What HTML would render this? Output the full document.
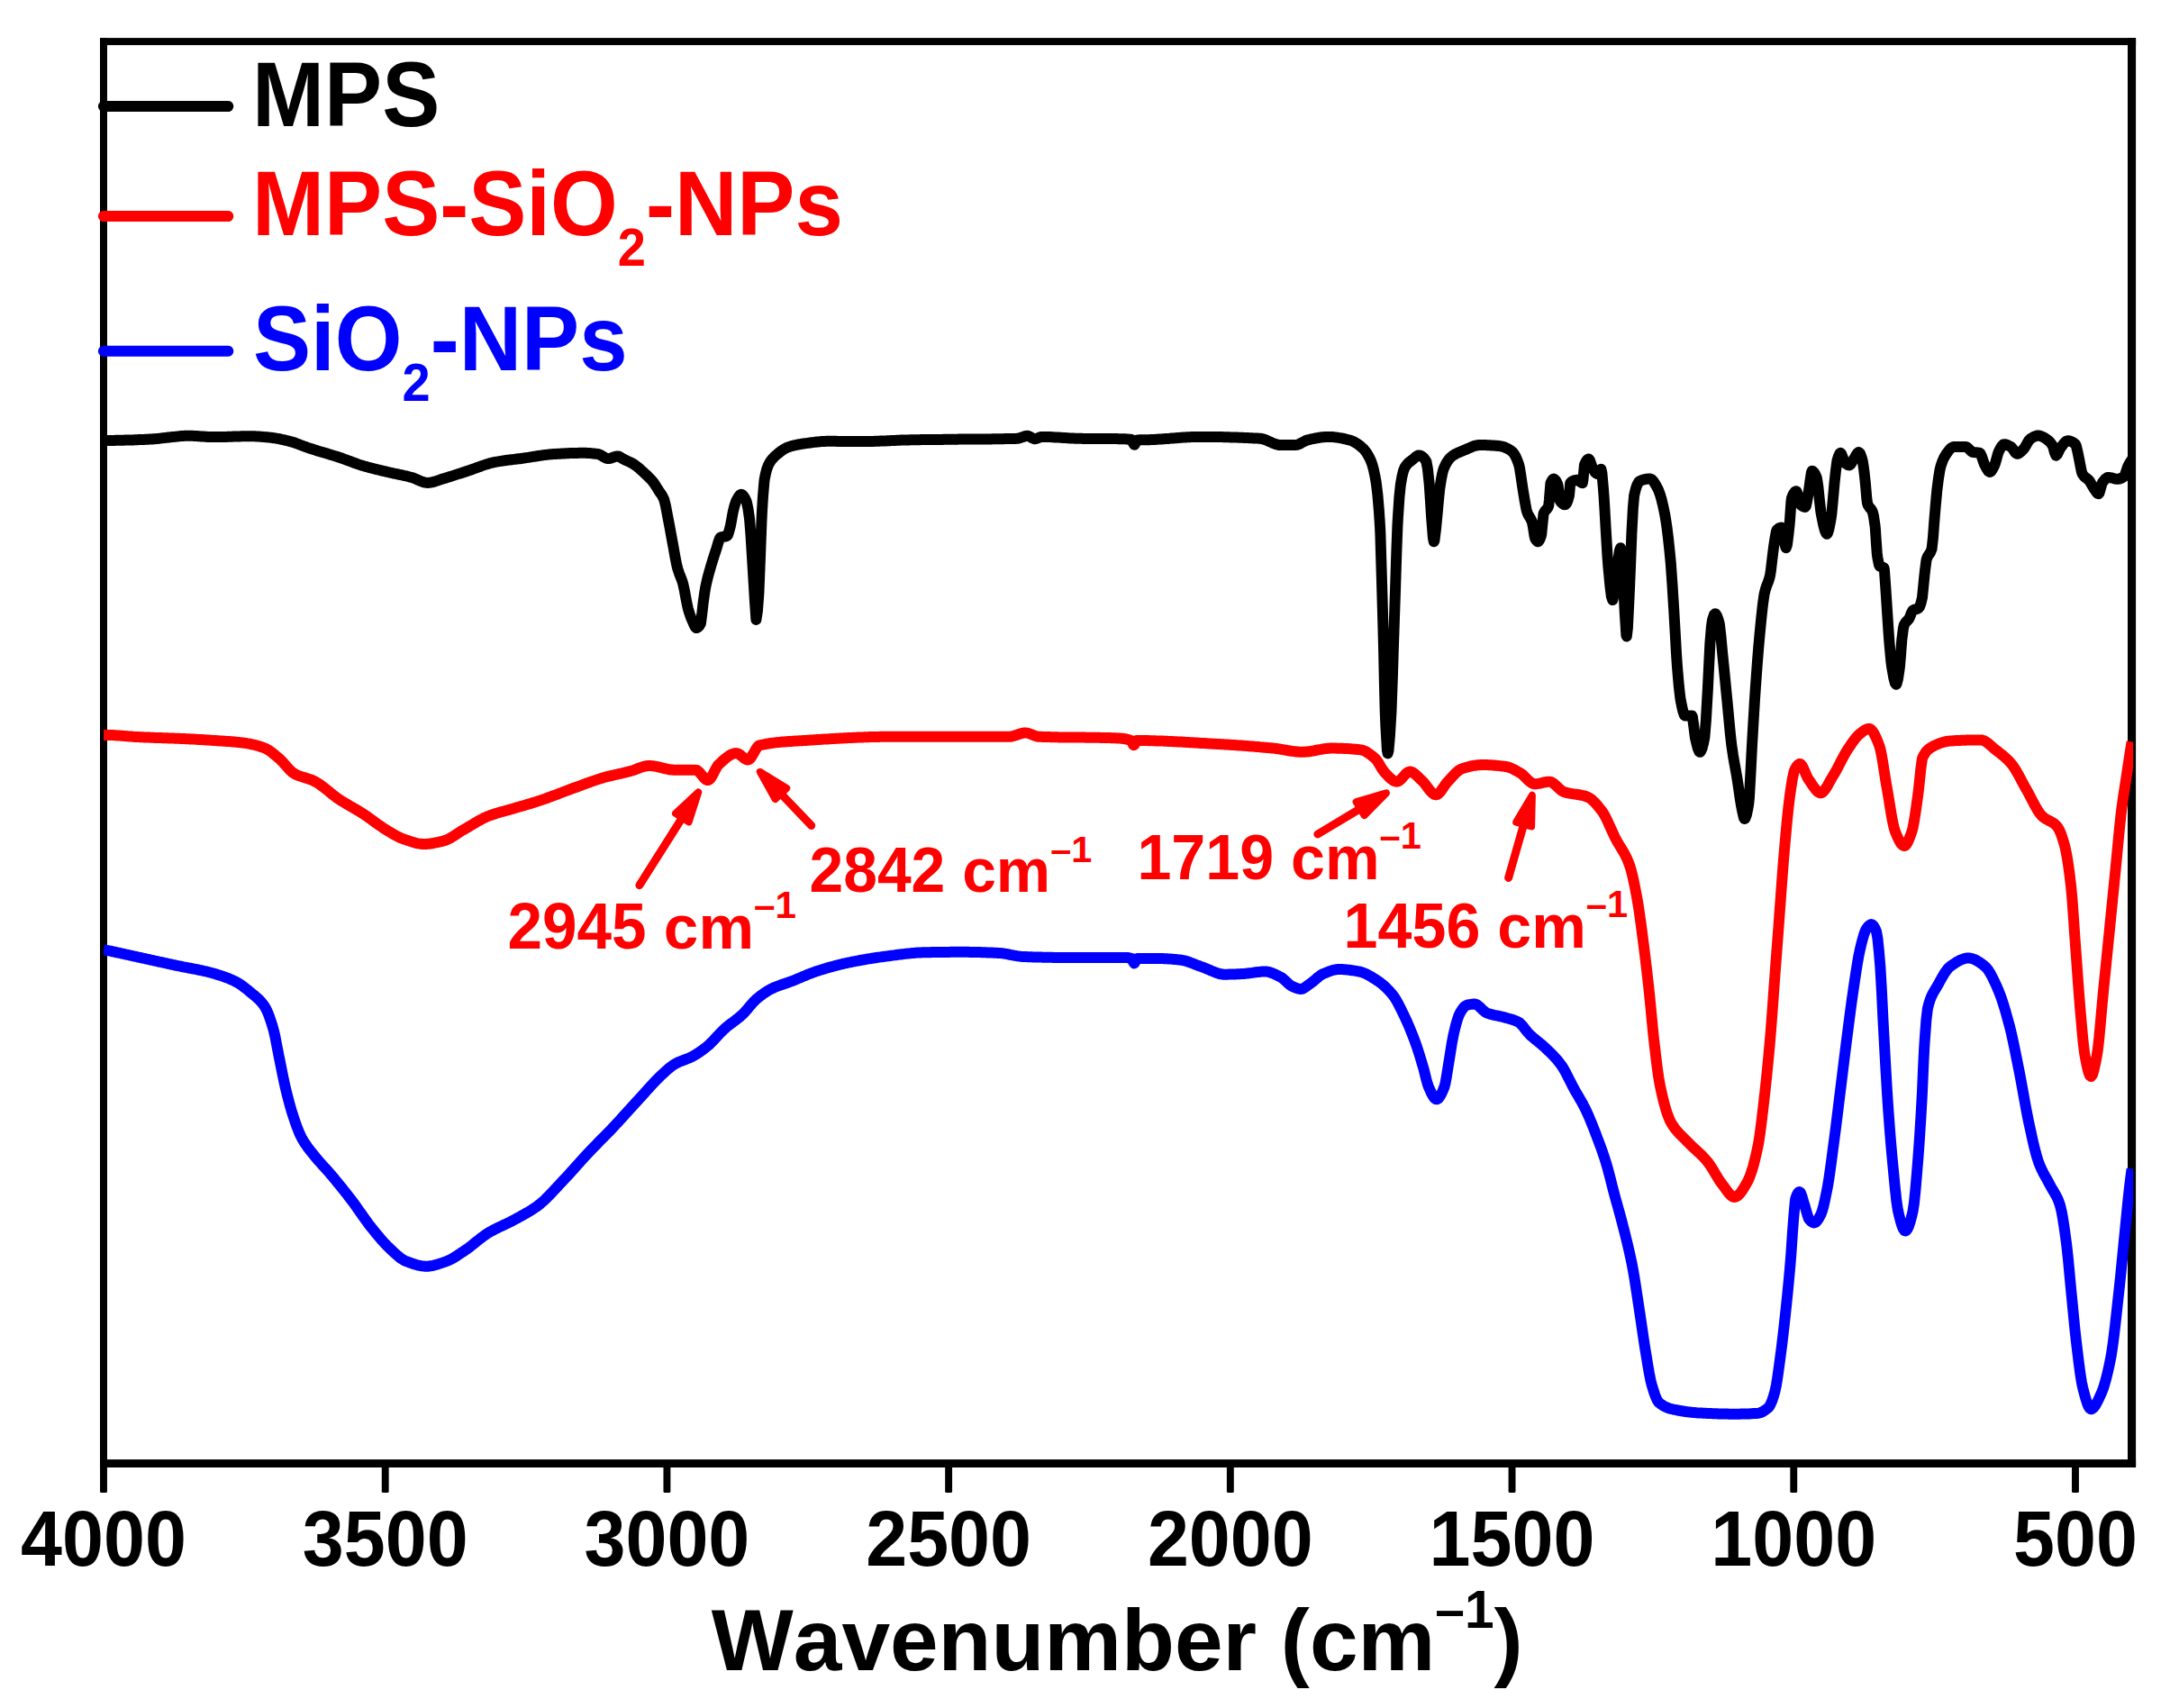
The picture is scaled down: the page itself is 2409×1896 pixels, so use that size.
<!DOCTYPE html>
<html lang="en"><head><meta charset="utf-8"><title>FTIR spectra</title>
<style>html,body{margin:0;padding:0;background:#fff}svg{display:block}text{font-family:"Liberation Sans",Arial,Helvetica,sans-serif;font-weight:bold;font-kerning:none;font-variant-ligatures:none;white-space:pre}</style></head><body>
<svg width="2409" height="1896" viewBox="0 0 2409 1896">
<rect width="2409" height="1896" fill="#fff"/>
<defs><clipPath id="plot"><rect x="114.9" y="46.1" width="2253.2" height="1578.6"/></clipPath></defs>
<g fill="#000">
<rect x="111" y="42.1" width="8" height="1586.9"/>
<rect x="111" y="42.1" width="2260.1" height="8"/>
<rect x="2362" y="42.1" width="9.1" height="1586.9" rx="1"/>
<rect x="111" y="1620.1" width="2260.1" height="8.9"/>
<rect x="111.05" y="1624" width="7.9" height="33" rx="1.6"/>
<rect x="423.76" y="1624" width="7.9" height="33" rx="1.6"/>
<rect x="736.47" y="1624" width="7.9" height="33" rx="1.6"/>
<rect x="1049.17" y="1624" width="7.9" height="33" rx="1.6"/>
<rect x="1361.88" y="1624" width="7.9" height="33" rx="1.6"/>
<rect x="1674.59" y="1624" width="7.9" height="33" rx="1.6"/>
<rect x="1987.30" y="1624" width="7.9" height="33" rx="1.6"/>
<rect x="2300.01" y="1624" width="7.9" height="33" rx="1.6"/>
</g>
<text transform="translate(115.0,1737.9) scale(1,1.05)" font-size="82.6" fill="#000" text-anchor="middle">4000</text>
<text transform="translate(427.7,1737.9) scale(1,1.05)" font-size="82.6" fill="#000" text-anchor="middle">3500</text>
<text transform="translate(740.4,1737.9) scale(1,1.05)" font-size="82.6" fill="#000" text-anchor="middle">3000</text>
<text transform="translate(1053.1,1737.9) scale(1,1.05)" font-size="82.6" fill="#000" text-anchor="middle">2500</text>
<text transform="translate(1365.8,1737.9) scale(1,1.05)" font-size="82.6" fill="#000" text-anchor="middle">2000</text>
<text transform="translate(1678.5,1737.9) scale(1,1.05)" font-size="82.6" fill="#000" text-anchor="middle">1500</text>
<text transform="translate(1991.2,1737.9) scale(1,1.05)" font-size="82.6" fill="#000" text-anchor="middle">1000</text>
<text transform="translate(2304.0,1737.9) scale(1,1.05)" font-size="82.6" fill="#000" text-anchor="middle">500</text>
<text x="789.8" y="1854.2" font-size="96.4">Wavenumber (cm<tspan font-size="58.7" dy="-47.2">–1</tspan><tspan dy="47.2">)</tspan></text>
<g clip-path="url(#plot)" fill="none" stroke-width="12.0" stroke-linejoin="round" stroke-linecap="butt">
<path d="M114.9 488.9 L116.4 488.9 L117.9 488.9 L118.8 488.9 L119.4 488.9 L120.9 488.9 L122.4 488.9 L123.9 488.9 L125.4 488.9 L126.9 488.9 L128.4 488.8 L129.9 488.8 L131.4 488.8 L132.9 488.8 L134.4 488.7 L135.9 488.7 L137.4 488.7 L138.9 488.6 L140.4 488.6 L141.9 488.5 L143.4 488.5 L144.9 488.5 L146.4 488.4 L147.9 488.4 L149.4 488.3 L150.9 488.2 L152.4 488.2 L153.9 488.1 L155.4 488.1 L156.9 488.0 L158.4 488.0 L159.9 487.9 L161.4 487.8 L162.9 487.8 L164.4 487.7 L165.9 487.6 L166.4 487.6 L167.4 487.5 L168.9 487.5 L170.4 487.3 L171.9 487.2 L173.4 487.1 L174.9 486.9 L176.4 486.8 L177.9 486.6 L179.4 486.4 L180.9 486.2 L182.4 486.1 L183.9 485.9 L185.4 485.7 L186.9 485.5 L188.4 485.4 L189.9 485.2 L191.2 485.1 L191.4 485.1 L192.9 484.9 L194.4 484.8 L195.9 484.6 L197.4 484.4 L198.9 484.3 L200.4 484.1 L201.9 484.0 L203.4 483.9 L204.9 483.8 L206.4 483.7 L207.8 483.7 L207.9 483.7 L209.4 483.7 L210.9 483.7 L212.4 483.8 L213.9 483.8 L215.4 483.9 L216.9 484.0 L218.4 484.1 L219.9 484.2 L221.4 484.3 L222.9 484.4 L224.4 484.5 L225.9 484.6 L227.4 484.7 L228.9 484.8 L230.4 484.9 L231.9 484.9 L233.4 485.0 L234.9 485.1 L236.4 485.1 L237.9 485.1 L238.2 485.1 L239.4 485.1 L240.9 485.1 L242.4 485.1 L243.9 485.0 L245.4 485.0 L246.9 485.0 L248.4 484.9 L249.9 484.9 L251.4 484.9 L252.9 484.8 L254.4 484.8 L255.9 484.7 L257.4 484.7 L258.9 484.6 L260.4 484.6 L261.9 484.5 L263.4 484.5 L264.9 484.4 L266.4 484.4 L267.9 484.3 L269.4 484.3 L270.9 484.3 L272.4 484.2 L273.9 484.2 L275.4 484.2 L276.9 484.2 L278.4 484.2 L279.9 484.2 L281.4 484.3 L282.9 484.3 L284.4 484.4 L285.9 484.5 L287.4 484.6 L288.9 484.7 L290.4 484.8 L291.9 484.9 L293.4 485.1 L294.9 485.2 L296.4 485.3 L297.9 485.5 L299.1 485.6 L299.4 485.6 L300.9 485.8 L302.4 486.0 L303.9 486.2 L305.4 486.4 L306.9 486.7 L308.4 486.9 L309.9 487.2 L311.4 487.5 L312.9 487.9 L314.4 488.2 L315.9 488.5 L317.4 488.9 L318.9 489.2 L320.4 489.6 L321.2 489.8 L321.9 490.0 L323.4 490.4 L324.9 490.8 L326.4 491.3 L327.9 491.8 L329.4 492.4 L330.9 492.9 L332.4 493.5 L333.9 494.1 L335.4 494.6 L336.9 495.2 L338.4 495.8 L339.9 496.3 L341.4 496.9 L342.9 497.4 L343.3 497.5 L344.4 497.9 L345.9 498.3 L347.4 498.8 L348.9 499.3 L350.4 499.7 L351.9 500.2 L353.4 500.7 L354.9 501.1 L356.4 501.6 L357.9 502.0 L359.4 502.4 L360.9 502.9 L362.4 503.3 L363.9 503.8 L365.4 504.2 L366.9 504.7 L368.4 505.1 L369.9 505.6 L371.4 506.1 L372.9 506.5 L374.4 507.0 L375.9 507.5 L376.5 507.7 L377.4 508.0 L378.9 508.5 L380.4 509.0 L381.9 509.6 L383.4 510.1 L384.9 510.7 L386.4 511.2 L387.9 511.8 L389.4 512.3 L390.9 512.9 L392.4 513.5 L393.9 514.0 L395.4 514.5 L396.9 515.1 L398.4 515.6 L399.9 516.1 L401.4 516.6 L402.9 517.0 L404.1 517.4 L404.4 517.5 L405.9 517.9 L407.4 518.3 L408.9 518.7 L410.4 519.1 L411.9 519.5 L413.4 519.9 L414.9 520.3 L416.4 520.7 L417.9 521.0 L419.4 521.4 L420.9 521.7 L422.4 522.1 L423.9 522.5 L425.4 522.8 L426.9 523.2 L428.4 523.5 L429.9 523.9 L431.4 524.2 L431.8 524.3 L432.9 524.6 L434.4 524.9 L435.9 525.2 L437.4 525.6 L438.9 525.9 L440.4 526.2 L441.9 526.5 L443.4 526.8 L444.9 527.1 L446.4 527.4 L447.9 527.8 L449.4 528.1 L450.9 528.4 L452.4 528.8 L453.9 529.2 L455.4 529.6 L456.7 529.9 L456.9 530.0 L458.4 530.4 L459.9 531.0 L461.4 531.6 L462.9 532.3 L464.4 533.0 L465.9 533.6 L467.4 534.2 L468.9 534.8 L470.4 535.3 L471.9 535.6 L473.4 535.8 L474.6 535.9 L474.9 535.9 L476.4 535.8 L477.9 535.6 L479.4 535.3 L480.9 535.0 L482.4 534.6 L483.9 534.1 L485.4 533.6 L486.9 533.1 L488.4 532.6 L489.9 532.0 L491.4 531.6 L492.6 531.2 L492.9 531.1 L494.4 530.7 L495.9 530.2 L497.4 529.8 L498.9 529.3 L500.4 528.9 L501.9 528.4 L503.4 527.9 L504.9 527.4 L506.4 526.9 L507.9 526.4 L509.4 525.9 L510.9 525.5 L512.4 525.0 L513.9 524.5 L515.4 524.0 L516.9 523.5 L518.4 523.0 L519.9 522.5 L520.2 522.4 L521.4 522.0 L522.9 521.5 L524.4 521.0 L525.9 520.4 L527.4 519.9 L528.9 519.3 L530.4 518.8 L531.9 518.2 L533.4 517.7 L534.9 517.1 L536.4 516.6 L537.9 516.1 L539.4 515.6 L540.9 515.1 L542.4 514.7 L543.9 514.2 L545.4 513.9 L546.9 513.5 L547.9 513.3 L548.4 513.2 L549.9 512.9 L551.4 512.6 L552.9 512.4 L554.4 512.1 L555.9 511.9 L557.4 511.7 L558.9 511.4 L560.4 511.2 L561.9 511.0 L563.4 510.8 L564.9 510.6 L566.4 510.5 L567.9 510.3 L569.4 510.1 L570.9 509.9 L572.4 509.7 L573.9 509.5 L575.4 509.3 L576.9 509.2 L578.4 509.0 L579.9 508.8 L581.1 508.6 L581.4 508.6 L582.9 508.3 L584.4 508.1 L585.9 507.9 L587.4 507.7 L588.9 507.4 L590.4 507.2 L591.9 506.9 L593.4 506.7 L594.9 506.5 L596.4 506.2 L597.9 506.0 L599.4 505.8 L600.9 505.6 L602.4 505.3 L603.9 505.1 L605.4 504.9 L606.9 504.8 L608.4 504.6 L609.9 504.4 L611.4 504.3 L612.9 504.2 L614.3 504.1 L614.4 504.1 L615.9 504.0 L617.4 503.9 L618.9 503.8 L620.4 503.7 L621.9 503.7 L623.4 503.6 L624.9 503.5 L626.4 503.4 L627.9 503.3 L629.4 503.3 L630.9 503.2 L632.4 503.1 L633.9 503.1 L635.4 503.0 L636.9 503.0 L638.4 502.9 L639.9 502.9 L641.4 502.9 L642.9 502.8 L644.4 502.8 L645.9 502.8 L647.4 502.8 L648.9 502.8 L650.4 502.8 L651.9 502.9 L653.4 503.0 L654.9 503.1 L656.4 503.2 L657.9 503.4 L659.4 503.5 L660.9 503.7 L662.4 503.9 L663.9 504.1 L664.0 504.1 L665.4 504.5 L666.9 505.2 L668.4 506.1 L669.9 507.0 L671.4 507.9 L672.9 508.6 L674.4 509.0 L675.1 509.1 L675.9 509.1 L677.4 508.8 L678.9 508.4 L680.4 507.8 L681.9 507.3 L683.4 506.8 L684.9 506.5 L686.1 506.4 L686.4 506.4 L687.9 507.0 L689.4 508.0 L690.9 509.0 L691.1 509.1 L692.4 509.8 L693.9 510.5 L695.4 511.2 L696.9 511.9 L698.4 512.6 L699.9 513.3 L701.4 514.1 L702.9 514.9 L704.0 515.6 L704.4 515.9 L705.9 516.9 L707.4 518.1 L708.9 519.3 L710.4 520.6 L711.9 522.0 L713.4 523.3 L714.9 524.7 L715.0 524.8 L716.4 526.1 L717.9 527.5 L719.4 528.9 L720.9 530.4 L722.4 531.9 L723.9 533.6 L724.2 534.0 L725.4 535.5 L726.9 537.7 L728.4 540.0 L729.9 542.4 L731.4 544.8 L731.6 545.1 L732.9 547.0 L734.4 549.1 L735.9 551.7 L737.1 554.3 L737.4 555.1 L738.9 561.1 L740.4 569.0 L741.8 576.4 L741.9 576.9 L743.4 584.7 L744.9 592.9 L746.4 601.1 L747.3 605.9 L747.9 609.2 L749.4 617.7 L750.9 625.6 L751.9 629.9 L752.4 631.7 L753.9 636.2 L755.4 639.9 L756.9 643.8 L758.3 648.3 L758.4 648.7 L759.9 655.6 L761.4 663.9 L762.9 671.7 L763.9 675.9 L764.4 677.6 L765.9 682.3 L767.4 686.3 L768.5 688.8 L768.9 689.7 L770.4 693.3 L771.9 696.2 L773.1 697.1 L773.4 697.1 L774.9 696.4 L776.4 694.7 L777.7 692.5 L777.9 691.9 L779.4 680.4 L780.5 670.4 L780.9 667.4 L782.4 656.7 L783.2 652.0 L783.9 648.6 L785.4 642.1 L786.9 636.5 L788.4 631.3 L788.8 629.9 L789.9 626.1 L791.4 621.2 L792.9 616.5 L794.4 612.0 L795.2 609.6 L795.9 607.3 L797.4 602.1 L798.9 597.9 L799.8 596.7 L800.4 596.4 L801.9 596.0 L803.4 595.8 L804.9 595.6 L806.4 595.2 L807.2 594.8 L807.9 593.9 L809.4 589.6 L810.9 583.8 L812.4 575.6 L813.6 569.0 L813.9 567.7 L815.4 561.6 L816.9 557.0 L817.3 556.1 L818.4 554.0 L819.9 551.4 L821.4 549.5 L822.9 548.8 L824.4 549.5 L825.9 551.3 L827.4 554.0 L828.4 556.1 L828.9 557.5 L830.4 564.4 L831.9 574.8 L832.1 576.4 L833.4 592.5 L834.8 615.1 L834.9 616.6 L836.4 641.5 L837.6 661.2 L837.9 666.4 L839.4 687.9 L840.9 678.4 L842.2 661.2 L842.4 658.0 L843.9 620.3 L844.1 615.1 L845.4 579.8 L845.9 569.0 L846.9 552.3 L848.4 534.3 L848.7 532.2 L849.9 526.0 L851.4 520.3 L852.9 516.4 L853.3 515.6 L854.4 513.6 L855.9 511.3 L857.4 509.4 L858.9 507.8 L860.4 506.3 L861.9 505.0 L862.5 504.5 L863.4 503.7 L864.9 502.5 L866.4 501.3 L867.9 500.2 L869.4 499.2 L870.9 498.3 L872.4 497.5 L873.9 496.8 L875.4 496.2 L876.9 495.7 L878.4 495.3 L879.9 494.8 L881.4 494.5 L882.9 494.1 L884.4 493.8 L885.9 493.5 L887.4 493.2 L888.9 493.0 L890.4 492.7 L891.9 492.5 L892.0 492.5 L893.4 492.3 L894.9 492.1 L896.4 491.9 L897.9 491.7 L899.4 491.5 L900.9 491.3 L902.4 491.1 L903.9 490.9 L905.4 490.7 L906.9 490.5 L908.4 490.4 L909.9 490.3 L911.4 490.1 L912.9 490.0 L914.4 489.9 L915.9 489.9 L917.4 489.8 L918.9 489.8 L919.6 489.8 L920.4 489.8 L921.9 489.8 L923.4 489.8 L924.9 489.8 L926.4 489.8 L927.9 489.8 L929.4 489.9 L930.9 489.9 L932.4 489.9 L933.9 489.9 L935.4 489.9 L936.9 489.9 L938.4 490.0 L939.9 490.0 L941.4 490.0 L942.9 490.0 L944.4 490.0 L945.9 490.0 L947.4 490.1 L948.9 490.1 L950.4 490.1 L951.9 490.1 L953.4 490.1 L954.9 490.1 L956.4 490.1 L956.5 490.1 L957.9 490.1 L959.4 490.1 L960.9 490.1 L962.4 490.1 L963.9 490.0 L965.4 490.0 L966.9 490.0 L968.4 489.9 L969.9 489.9 L971.4 489.8 L972.9 489.8 L974.4 489.7 L975.9 489.7 L977.4 489.6 L978.9 489.5 L980.4 489.5 L981.9 489.4 L983.4 489.4 L984.9 489.3 L986.4 489.2 L987.9 489.2 L989.4 489.1 L990.9 489.0 L992.4 489.0 L993.9 488.9 L995.4 488.8 L996.9 488.8 L998.4 488.7 L999.9 488.6 L1001.4 488.6 L1002.9 488.5 L1004.4 488.5 L1005.9 488.4 L1007.4 488.4 L1008.9 488.4 L1010.4 488.3 L1011.8 488.3 L1011.9 488.3 L1013.4 488.3 L1014.9 488.2 L1016.4 488.2 L1017.9 488.2 L1019.4 488.2 L1020.9 488.2 L1022.4 488.1 L1023.9 488.1 L1025.4 488.1 L1026.9 488.1 L1028.4 488.1 L1029.9 488.0 L1031.4 488.0 L1032.9 488.0 L1034.4 488.0 L1035.9 488.0 L1037.4 488.0 L1038.9 487.9 L1040.4 487.9 L1041.9 487.9 L1043.4 487.9 L1044.9 487.9 L1046.4 487.9 L1047.9 487.8 L1049.4 487.8 L1050.9 487.8 L1052.4 487.8 L1053.9 487.8 L1055.4 487.8 L1056.9 487.7 L1058.4 487.7 L1059.9 487.7 L1060.0 487.7 L1061.4 487.7 L1062.9 487.7 L1064.4 487.6 L1065.9 487.6 L1067.4 487.6 L1068.9 487.6 L1070.4 487.6 L1071.9 487.6 L1073.4 487.6 L1074.9 487.6 L1076.4 487.5 L1077.9 487.5 L1079.4 487.5 L1080.9 487.5 L1082.4 487.5 L1083.9 487.5 L1085.4 487.5 L1086.9 487.5 L1088.4 487.5 L1089.9 487.5 L1091.4 487.4 L1092.9 487.4 L1094.4 487.4 L1095.9 487.4 L1097.4 487.4 L1098.9 487.4 L1100.4 487.4 L1101.9 487.3 L1103.4 487.3 L1104.9 487.3 L1106.4 487.3 L1107.9 487.3 L1109.4 487.2 L1110.9 487.2 L1112.4 487.2 L1113.9 487.2 L1115.4 487.1 L1116.9 487.1 L1118.4 487.1 L1119.9 487.0 L1121.4 487.0 L1122.9 487.0 L1124.4 486.9 L1125.9 486.9 L1127.4 486.9 L1128.9 486.8 L1129.1 486.8 L1130.4 486.7 L1131.9 486.3 L1133.4 485.8 L1134.9 485.2 L1136.4 484.7 L1137.9 484.2 L1139.4 483.9 L1140.6 483.8 L1140.9 483.8 L1142.4 484.2 L1143.9 485.0 L1145.4 486.0 L1146.9 486.8 L1148.4 487.2 L1148.7 487.2 L1149.9 487.1 L1151.4 486.6 L1152.9 486.0 L1154.4 485.4 L1155.9 485.0 L1156.8 484.9 L1157.4 484.9 L1158.9 484.9 L1160.4 484.9 L1161.9 485.0 L1163.4 485.0 L1164.9 485.1 L1166.4 485.1 L1167.9 485.2 L1169.4 485.3 L1170.9 485.4 L1172.4 485.5 L1173.9 485.5 L1175.4 485.6 L1176.9 485.7 L1178.4 485.8 L1179.9 485.9 L1181.4 486.0 L1182.9 486.1 L1184.4 486.2 L1185.9 486.3 L1187.4 486.4 L1188.9 486.5 L1190.4 486.5 L1191.9 486.6 L1193.4 486.7 L1194.9 486.7 L1196.4 486.8 L1197.9 486.8 L1198.2 486.8 L1199.4 486.8 L1200.9 486.8 L1202.4 486.9 L1203.9 486.9 L1205.4 486.9 L1206.9 486.9 L1208.4 486.9 L1209.9 486.9 L1211.4 486.9 L1212.9 486.9 L1214.4 486.9 L1215.9 487.0 L1217.4 487.0 L1218.9 487.0 L1220.4 487.0 L1221.9 487.0 L1223.4 487.0 L1224.9 487.0 L1226.4 487.0 L1227.9 487.0 L1229.4 487.0 L1230.9 487.0 L1232.4 487.0 L1233.9 487.1 L1235.4 487.1 L1236.9 487.1 L1238.4 487.1 L1239.9 487.1 L1241.4 487.2 L1242.9 487.2 L1244.3 487.2 L1244.4 487.2 L1245.9 487.2 L1247.4 487.3 L1248.9 487.3 L1250.4 487.4 L1251.9 487.5 L1253.4 487.7 L1254.9 487.8 L1256.0 488.0 L1256.4 488.3 L1257.9 491.6 L1259.3 493.8 L1259.4 493.8 L1260.9 491.2 L1262.4 488.5 L1262.6 488.4 L1263.9 488.4 L1265.4 488.3 L1266.9 488.3 L1268.4 488.3 L1269.9 488.3 L1271.4 488.2 L1272.9 488.2 L1274.3 488.2 L1274.4 488.2 L1275.9 488.2 L1277.4 488.1 L1278.9 488.0 L1280.4 488.0 L1281.9 487.9 L1283.4 487.8 L1284.9 487.7 L1286.4 487.6 L1287.9 487.5 L1289.4 487.4 L1290.9 487.3 L1292.4 487.2 L1293.9 487.1 L1295.4 487.0 L1296.9 486.9 L1298.4 486.8 L1299.9 486.6 L1301.4 486.5 L1302.9 486.4 L1304.4 486.3 L1305.9 486.2 L1307.4 486.0 L1308.9 485.9 L1310.4 485.8 L1311.9 485.7 L1313.4 485.6 L1314.9 485.5 L1316.4 485.4 L1317.9 485.3 L1319.4 485.2 L1320.9 485.2 L1322.4 485.1 L1323.9 485.1 L1325.4 485.0 L1326.9 485.0 L1328.4 484.9 L1329.9 484.9 L1331.4 484.9 L1331.9 484.9 L1332.9 484.9 L1334.4 484.9 L1335.9 484.9 L1337.4 484.9 L1338.9 484.9 L1340.4 484.9 L1341.9 484.9 L1343.4 485.0 L1344.9 485.0 L1346.4 485.0 L1347.9 485.0 L1349.4 485.0 L1350.9 485.0 L1352.4 485.1 L1353.9 485.1 L1355.4 485.1 L1356.9 485.1 L1358.4 485.2 L1359.9 485.2 L1361.4 485.2 L1362.9 485.3 L1364.4 485.3 L1365.9 485.4 L1367.4 485.4 L1368.9 485.5 L1370.4 485.5 L1371.9 485.5 L1373.4 485.6 L1374.9 485.7 L1376.4 485.7 L1377.9 485.8 L1379.4 485.8 L1380.9 485.9 L1382.4 486.0 L1383.9 486.0 L1385.4 486.1 L1386.9 486.2 L1388.4 486.2 L1389.9 486.3 L1391.4 486.4 L1392.9 486.5 L1394.4 486.6 L1395.9 486.6 L1397.4 486.7 L1398.7 486.8 L1398.9 486.8 L1400.4 487.0 L1401.9 487.3 L1403.4 487.8 L1404.9 488.3 L1406.4 488.9 L1407.9 489.6 L1409.4 490.2 L1410.9 490.9 L1412.4 491.6 L1413.9 492.2 L1415.4 492.8 L1416.9 493.3 L1418.4 493.7 L1419.9 494.0 L1421.4 494.1 L1421.8 494.1 L1422.9 494.1 L1424.4 494.1 L1425.9 494.1 L1427.4 494.1 L1428.9 494.1 L1430.4 494.1 L1431.9 494.1 L1433.4 494.1 L1434.9 494.1 L1436.4 494.1 L1437.9 494.1 L1439.4 493.9 L1440.9 493.5 L1442.4 492.9 L1443.9 492.1 L1445.4 491.3 L1446.9 490.5 L1448.4 489.7 L1449.9 489.0 L1451.4 488.5 L1451.7 488.4 L1452.9 488.1 L1454.4 487.8 L1455.9 487.4 L1457.4 487.1 L1458.9 486.8 L1460.4 486.5 L1461.9 486.2 L1463.4 486.0 L1464.9 485.7 L1466.4 485.5 L1467.9 485.3 L1469.4 485.2 L1470.9 485.0 L1472.4 485.0 L1473.9 484.9 L1474.7 484.9 L1475.4 484.9 L1476.9 484.9 L1478.4 485.0 L1479.9 485.1 L1481.4 485.3 L1482.9 485.4 L1484.4 485.6 L1485.9 485.9 L1487.4 486.1 L1488.9 486.4 L1490.4 486.7 L1491.9 487.0 L1493.4 487.3 L1494.9 487.7 L1496.4 488.1 L1497.8 488.4 L1497.9 488.4 L1499.4 488.9 L1500.9 489.4 L1502.4 490.1 L1503.9 490.9 L1505.4 491.8 L1506.9 492.8 L1508.4 493.8 L1509.9 495.0 L1511.4 496.2 L1511.5 496.3 L1512.9 497.6 L1514.4 499.1 L1515.9 501.0 L1517.4 503.1 L1518.9 505.6 L1520.4 508.4 L1521.7 511.1 L1521.9 511.6 L1523.4 515.7 L1524.9 521.3 L1526.4 528.3 L1527.4 533.9 L1527.9 537.1 L1529.4 549.5 L1530.9 567.2 L1532.0 584.2 L1532.4 592.8 L1533.9 642.3 L1534.2 652.6 L1535.4 694.5 L1536.1 721.1 L1536.9 758.3 L1537.7 789.6 L1538.4 806.3 L1539.9 832.7 L1540.6 836.4 L1541.4 833.6 L1542.9 816.6 L1544.4 791.4 L1544.5 789.6 L1545.9 750.5 L1546.8 721.1 L1547.4 703.2 L1548.9 658.6 L1549.1 652.6 L1550.4 610.5 L1551.4 584.2 L1551.9 575.0 L1553.4 552.1 L1554.8 538.5 L1554.9 537.8 L1556.4 529.2 L1557.9 523.0 L1559.4 519.1 L1560.9 516.8 L1562.4 515.0 L1563.9 513.5 L1565.4 512.3 L1566.9 511.2 L1568.4 510.1 L1568.5 510.0 L1569.9 508.8 L1571.4 507.4 L1572.9 506.3 L1574.4 505.5 L1575.3 505.4 L1575.9 505.4 L1577.4 505.9 L1578.9 506.8 L1580.4 508.2 L1581.9 510.0 L1583.3 512.2 L1583.4 512.4 L1584.9 520.3 L1586.4 534.4 L1586.8 538.5 L1587.9 555.0 L1589.0 572.7 L1589.4 577.9 L1590.9 596.8 L1591.8 601.3 L1592.4 599.9 L1593.9 588.1 L1595.4 572.7 L1596.9 556.0 L1598.2 543.1 L1598.4 541.7 L1599.9 532.1 L1601.4 524.6 L1602.7 520.2 L1602.9 519.7 L1604.4 516.4 L1605.9 513.6 L1607.4 511.3 L1608.9 509.3 L1610.4 507.8 L1611.9 506.5 L1613.4 505.4 L1614.9 504.5 L1616.4 503.6 L1617.9 502.9 L1619.4 502.2 L1620.9 501.6 L1622.4 501.0 L1623.9 500.4 L1625.4 499.8 L1625.6 499.7 L1626.9 499.2 L1628.4 498.5 L1629.9 497.8 L1631.4 497.2 L1632.9 496.5 L1634.4 495.9 L1635.9 495.3 L1637.4 494.8 L1638.9 494.5 L1640.4 494.2 L1641.9 494.0 L1642.7 494.0 L1643.4 494.0 L1644.9 494.0 L1646.4 494.0 L1647.9 494.1 L1649.4 494.1 L1650.9 494.2 L1652.4 494.2 L1653.9 494.3 L1655.4 494.4 L1656.9 494.5 L1658.4 494.6 L1659.9 494.7 L1661.4 494.8 L1662.9 495.0 L1664.4 495.1 L1665.9 495.3 L1667.4 495.6 L1668.9 496.0 L1670.4 496.5 L1671.9 497.2 L1673.4 497.9 L1674.9 498.7 L1676.4 499.6 L1677.9 500.7 L1678.1 500.8 L1679.4 502.0 L1680.9 503.9 L1682.4 506.5 L1683.9 509.8 L1685.4 513.7 L1686.1 515.7 L1686.9 518.9 L1688.4 528.2 L1689.9 538.7 L1690.6 543.1 L1691.4 547.9 L1692.9 557.2 L1694.4 565.2 L1695.2 568.2 L1695.9 570.0 L1697.4 572.9 L1698.9 575.2 L1700.4 578.2 L1700.9 579.6 L1701.9 584.5 L1703.4 594.4 L1704.3 597.9 L1704.9 599.0 L1706.4 600.9 L1707.3 601.3 L1707.9 601.1 L1709.4 598.7 L1710.9 594.4 L1711.2 593.3 L1712.4 581.1 L1713.5 570.5 L1713.9 569.4 L1715.4 566.8 L1716.9 565.4 L1718.4 563.4 L1719.2 561.3 L1719.9 555.1 L1721.4 536.6 L1721.5 536.2 L1722.9 533.3 L1724.4 531.7 L1724.9 531.6 L1725.9 532.0 L1727.4 533.8 L1728.9 536.9 L1729.5 538.5 L1730.4 545.2 L1731.7 555.6 L1731.9 555.9 L1733.4 558.0 L1734.9 559.3 L1736.4 560.1 L1737.4 560.2 L1737.9 560.1 L1739.4 558.2 L1740.9 554.1 L1742.0 549.9 L1742.4 545.7 L1743.2 536.2 L1743.9 535.5 L1745.4 534.3 L1746.9 533.5 L1748.4 533.1 L1749.9 532.8 L1751.1 532.8 L1751.4 532.8 L1752.9 533.6 L1754.4 534.9 L1755.9 536.0 L1756.8 536.2 L1757.4 533.0 L1758.9 516.6 L1759.1 515.7 L1760.4 512.8 L1761.9 510.5 L1763.4 509.5 L1763.7 509.5 L1764.9 510.9 L1766.4 515.2 L1767.9 519.4 L1768.3 520.2 L1769.4 522.1 L1770.9 524.5 L1772.4 525.8 L1772.8 525.9 L1773.9 525.2 L1775.4 522.9 L1776.9 521.0 L1777.4 520.8 L1778.4 525.2 L1779.9 542.3 L1780.5 550.0 L1781.4 564.3 L1782.5 584.2 L1782.9 590.9 L1784.4 615.9 L1785.3 627.8 L1785.9 634.3 L1787.4 650.2 L1788.9 662.2 L1790.2 666.1 L1790.4 666.0 L1791.9 659.1 L1793.4 646.0 L1794.9 633.0 L1795.2 630.9 L1796.4 621.9 L1797.9 611.3 L1799.0 608.2 L1799.4 609.3 L1800.9 627.8 L1802.3 651.0 L1802.4 652.5 L1803.9 681.9 L1805.4 705.0 L1805.8 706.4 L1806.9 697.0 L1808.4 666.3 L1809.1 651.0 L1809.9 631.6 L1811.4 592.1 L1811.6 588.1 L1812.9 564.0 L1814.1 550.3 L1814.4 548.9 L1815.9 542.7 L1817.4 538.3 L1818.9 535.4 L1820.4 534.0 L1821.9 533.4 L1823.4 532.8 L1824.9 532.4 L1826.4 532.0 L1827.9 531.8 L1829.4 531.6 L1830.9 531.5 L1831.7 531.5 L1832.4 531.6 L1833.9 532.5 L1835.4 534.1 L1836.9 536.3 L1838.4 538.8 L1839.9 541.6 L1840.5 542.8 L1841.4 544.7 L1842.9 548.9 L1844.4 554.0 L1845.9 560.1 L1847.4 567.0 L1848.1 570.5 L1848.9 574.9 L1850.4 584.8 L1851.9 596.7 L1853.4 610.6 L1854.4 620.8 L1854.9 626.5 L1856.4 647.6 L1857.9 671.5 L1858.2 676.2 L1859.4 697.1 L1860.9 724.2 L1861.9 739.1 L1862.4 745.3 L1863.9 762.5 L1865.4 775.2 L1865.7 776.9 L1866.9 783.1 L1868.4 789.8 L1869.9 793.9 L1870.7 794.5 L1871.4 794.5 L1872.9 794.5 L1874.4 794.5 L1875.9 794.5 L1877.4 794.5 L1878.3 794.5 L1878.9 795.8 L1880.4 806.9 L1881.9 818.7 L1882.1 819.7 L1883.4 825.2 L1884.9 830.9 L1886.4 834.4 L1887.1 834.8 L1887.9 834.3 L1889.4 831.1 L1890.9 825.5 L1892.1 819.7 L1892.4 817.8 L1893.9 799.3 L1895.4 773.1 L1895.9 764.3 L1896.9 743.6 L1898.4 713.9 L1899.9 695.9 L1900.9 688.8 L1901.4 686.9 L1902.9 682.4 L1904.0 681.2 L1904.4 681.3 L1905.9 683.4 L1907.4 687.5 L1908.5 691.3 L1908.9 693.2 L1910.4 706.1 L1911.9 722.5 L1912.3 726.5 L1913.4 737.3 L1914.9 752.4 L1916.4 767.8 L1917.3 776.9 L1917.9 783.1 L1919.4 799.3 L1920.9 814.9 L1922.3 827.2 L1922.4 828.0 L1923.9 838.2 L1925.4 846.9 L1926.9 855.1 L1928.4 863.8 L1928.6 865.0 L1929.9 873.6 L1931.4 884.1 L1932.9 893.6 L1933.7 897.7 L1934.4 901.2 L1935.9 907.7 L1936.7 909.0 L1937.4 908.5 L1938.9 904.4 L1940.4 897.3 L1941.2 892.6 L1941.9 885.7 L1943.4 858.9 L1944.9 828.9 L1945.0 827.2 L1946.4 803.1 L1947.9 778.0 L1948.8 764.3 L1949.4 755.8 L1950.9 735.4 L1952.4 716.8 L1953.8 701.4 L1953.9 700.4 L1955.4 685.2 L1956.9 671.4 L1958.4 660.7 L1958.8 658.6 L1959.9 654.2 L1961.4 649.8 L1962.9 646.1 L1964.4 641.4 L1965.1 638.4 L1965.9 633.4 L1967.4 620.4 L1968.9 608.2 L1970.4 598.1 L1971.9 590.0 L1972.7 588.1 L1973.4 587.5 L1974.9 586.4 L1976.4 585.8 L1977.7 585.6 L1977.9 585.7 L1979.4 591.5 L1980.9 601.1 L1982.4 607.8 L1982.8 608.2 L1983.9 604.9 L1985.4 593.2 L1986.5 583.1 L1986.9 578.7 L1988.4 557.3 L1989.0 552.9 L1989.9 550.5 L1991.4 547.5 L1992.9 545.7 L1994.1 545.3 L1994.4 545.4 L1995.9 549.4 L1997.4 555.7 L1998.9 560.2 L1999.1 560.4 L2000.4 561.4 L2001.9 562.3 L2003.4 562.8 L2004.1 562.9 L2004.9 561.6 L2006.4 554.2 L2007.9 545.3 L2009.4 534.7 L2010.9 524.6 L2011.7 522.7 L2012.4 522.9 L2013.9 524.4 L2015.4 527.2 L2016.7 530.2 L2016.9 530.8 L2018.4 540.7 L2019.9 555.3 L2021.4 568.2 L2021.8 570.5 L2022.9 576.0 L2024.4 583.2 L2025.9 588.9 L2027.4 592.3 L2028.1 592.7 L2028.9 591.9 L2030.4 587.1 L2031.9 579.5 L2032.8 574.4 L2033.4 570.0 L2034.9 553.9 L2036.4 537.0 L2036.6 535.1 L2037.9 523.0 L2039.4 511.9 L2039.7 510.6 L2040.9 506.7 L2042.4 503.3 L2043.2 502.8 L2043.9 503.3 L2045.4 507.0 L2046.9 511.5 L2048.0 513.5 L2048.4 513.9 L2049.9 515.2 L2051.4 516.1 L2052.8 516.4 L2052.9 516.4 L2054.4 515.4 L2055.9 513.1 L2057.4 510.5 L2058.6 508.6 L2058.9 508.2 L2060.4 505.6 L2061.9 503.1 L2063.4 501.9 L2063.5 501.9 L2064.9 503.3 L2066.4 507.1 L2067.9 512.5 L2069.4 522.8 L2070.6 533.8 L2070.9 536.8 L2072.4 554.2 L2073.1 558.9 L2073.9 561.0 L2075.4 563.3 L2076.9 564.9 L2078.4 567.3 L2078.9 568.5 L2079.9 572.5 L2081.4 582.5 L2081.8 585.9 L2082.9 602.5 L2083.8 614.9 L2084.4 619.1 L2085.9 626.7 L2086.7 628.4 L2087.4 628.9 L2088.9 629.3 L2090.4 629.7 L2091.5 630.4 L2091.9 632.4 L2093.4 653.5 L2094.9 676.4 L2095.3 682.5 L2096.4 699.2 L2097.3 711.5 L2097.9 718.6 L2099.4 734.5 L2100.2 740.5 L2100.9 744.6 L2102.4 752.8 L2103.9 758.4 L2105.0 759.8 L2105.4 759.5 L2106.9 754.0 L2108.4 744.2 L2108.9 740.5 L2109.9 728.7 L2111.2 711.5 L2111.4 709.7 L2112.9 697.6 L2113.7 694.1 L2114.4 692.6 L2115.9 690.4 L2117.4 689.0 L2118.9 687.3 L2119.5 686.4 L2120.4 684.4 L2121.9 680.4 L2123.4 677.7 L2124.9 676.8 L2126.4 676.4 L2127.9 676.0 L2129.4 675.3 L2130.1 674.8 L2130.9 673.8 L2132.4 669.9 L2133.9 663.7 L2134.0 663.2 L2135.4 649.2 L2135.9 643.9 L2136.9 634.4 L2138.4 622.5 L2138.8 620.7 L2139.9 617.8 L2141.4 615.5 L2142.9 613.4 L2144.4 609.8 L2144.6 609.1 L2145.9 597.4 L2147.4 577.5 L2147.5 576.3 L2148.9 559.4 L2150.4 543.4 L2151.9 531.6 L2153.4 522.2 L2154.3 518.3 L2154.9 516.3 L2156.4 512.0 L2157.9 508.5 L2159.4 505.9 L2160.1 504.8 L2160.9 503.6 L2162.4 501.5 L2163.9 499.5 L2165.4 497.9 L2166.9 496.7 L2168.4 496.1 L2168.8 496.1 L2169.9 496.1 L2171.4 496.1 L2172.9 496.1 L2174.4 496.1 L2175.9 496.1 L2177.4 496.1 L2178.9 496.1 L2180.4 496.1 L2181.9 496.1 L2182.3 496.1 L2183.4 496.4 L2184.9 497.5 L2186.4 499.1 L2187.9 500.6 L2189.4 501.7 L2190.0 501.9 L2190.9 502.1 L2192.4 502.2 L2193.9 502.3 L2195.4 502.4 L2196.9 502.6 L2197.7 502.8 L2198.4 503.3 L2199.9 506.5 L2201.4 511.0 L2202.9 515.2 L2203.5 516.4 L2204.4 518.1 L2205.9 520.9 L2207.4 523.1 L2208.9 524.1 L2209.0 524.1 L2210.4 523.3 L2211.9 521.0 L2213.4 518.1 L2214.2 516.4 L2214.9 514.6 L2216.4 509.3 L2217.9 503.8 L2219.0 500.9 L2219.4 500.1 L2220.9 497.3 L2222.4 495.0 L2223.9 493.5 L2224.8 493.2 L2225.4 493.2 L2226.9 493.5 L2228.4 494.0 L2229.9 494.7 L2231.4 495.5 L2232.5 496.1 L2232.9 496.4 L2234.4 498.1 L2235.9 500.4 L2237.4 502.6 L2238.9 503.7 L2239.3 503.8 L2240.4 503.6 L2241.9 502.8 L2243.4 501.5 L2244.9 500.1 L2246.0 499.0 L2246.4 498.6 L2247.9 496.5 L2249.4 493.9 L2250.9 491.2 L2252.4 488.8 L2253.8 487.4 L2253.9 487.3 L2255.4 486.3 L2256.9 485.4 L2258.4 484.6 L2259.9 484.0 L2261.4 483.6 L2262.5 483.5 L2262.9 483.5 L2264.4 483.7 L2265.9 484.2 L2267.4 484.8 L2268.9 485.6 L2270.4 486.6 L2271.9 487.6 L2273.1 488.4 L2273.4 488.6 L2274.9 489.9 L2276.4 491.5 L2277.9 493.5 L2278.9 495.1 L2279.4 496.3 L2280.9 502.2 L2282.4 505.7 L2283.9 504.3 L2285.4 501.3 L2286.9 498.1 L2287.6 497.0 L2288.4 496.0 L2289.9 493.9 L2291.4 492.0 L2292.9 490.4 L2294.4 489.5 L2295.3 489.3 L2295.9 489.3 L2297.4 489.5 L2298.9 490.0 L2300.4 490.6 L2301.9 491.5 L2303.4 492.7 L2304.0 493.2 L2304.9 495.1 L2306.4 501.4 L2307.9 508.6 L2309.4 516.3 L2310.9 523.7 L2311.7 526.0 L2312.4 527.1 L2313.9 529.0 L2315.4 530.2 L2316.9 531.3 L2318.4 532.6 L2319.5 533.8 L2319.9 534.3 L2321.4 536.8 L2322.9 539.5 L2324.4 542.1 L2325.3 543.4 L2325.9 544.2 L2327.4 546.4 L2328.9 547.9 L2329.7 548.2 L2330.4 547.4 L2331.9 542.5 L2333.4 537.0 L2334.0 535.7 L2334.9 534.5 L2336.4 532.6 L2337.9 531.1 L2339.4 530.2 L2340.7 529.9 L2340.9 529.9 L2342.4 530.1 L2343.9 530.4 L2345.4 530.8 L2346.9 531.2 L2348.4 531.6 L2349.9 531.8 L2350.4 531.8 L2351.4 531.7 L2352.9 531.5 L2354.4 531.0 L2355.9 530.3 L2357.4 529.4 L2358.1 528.9 L2358.9 527.7 L2360.4 523.1 L2361.9 518.5 L2362.0 518.3 L2363.4 515.5 L2364.9 512.8 L2366.4 510.6 L2366.5 510.5" stroke="#000"/>
<path d="M114.9 815.9 L116.4 815.9 L116.6 815.9 L117.9 815.9 L119.4 815.9 L120.9 816.0 L122.4 816.0 L123.9 816.1 L125.4 816.1 L126.9 816.2 L128.4 816.3 L129.9 816.4 L131.4 816.5 L132.9 816.6 L134.4 816.7 L135.9 816.8 L137.4 816.9 L138.9 817.1 L140.4 817.2 L141.9 817.3 L143.4 817.4 L144.9 817.5 L146.4 817.6 L147.9 817.8 L149.4 817.9 L150.9 818.0 L152.4 818.0 L153.9 818.1 L155.3 818.2 L155.4 818.2 L156.9 818.3 L158.4 818.3 L159.9 818.4 L161.4 818.5 L162.9 818.5 L164.4 818.6 L165.9 818.6 L167.4 818.7 L168.9 818.8 L170.4 818.8 L171.9 818.9 L173.4 818.9 L174.9 819.0 L176.4 819.0 L177.9 819.1 L179.4 819.1 L180.9 819.2 L182.4 819.2 L183.9 819.3 L185.4 819.3 L186.9 819.4 L188.4 819.4 L189.9 819.5 L191.4 819.5 L192.9 819.6 L194.4 819.7 L195.9 819.7 L197.4 819.8 L198.9 819.8 L200.4 819.9 L201.9 820.0 L203.4 820.0 L204.9 820.1 L205.1 820.1 L206.4 820.2 L207.9 820.2 L209.4 820.3 L210.9 820.4 L212.4 820.5 L213.9 820.5 L215.4 820.6 L216.9 820.7 L218.4 820.8 L219.9 820.9 L221.4 820.9 L222.9 821.0 L224.4 821.1 L225.9 821.2 L227.4 821.3 L228.9 821.4 L230.4 821.5 L231.9 821.6 L233.4 821.7 L234.9 821.8 L236.4 821.9 L237.9 822.0 L238.2 822.0 L239.4 822.1 L240.9 822.2 L242.4 822.3 L243.9 822.4 L245.4 822.5 L246.9 822.6 L248.4 822.7 L249.9 822.8 L251.4 822.9 L252.9 823.0 L254.4 823.1 L255.9 823.2 L257.4 823.3 L258.9 823.5 L260.4 823.6 L261.9 823.7 L263.4 823.9 L264.9 824.0 L266.4 824.2 L267.9 824.4 L269.4 824.5 L270.9 824.7 L271.4 824.8 L272.4 824.9 L273.9 825.2 L275.4 825.4 L276.9 825.7 L278.4 826.0 L279.9 826.3 L281.4 826.6 L282.9 827.0 L284.4 827.4 L285.9 827.8 L287.4 828.2 L288.9 828.7 L290.4 829.2 L291.9 829.7 L293.4 830.3 L293.5 830.3 L294.9 830.9 L296.4 831.7 L297.9 832.5 L299.4 833.5 L300.9 834.6 L302.4 835.8 L303.9 837.0 L305.4 838.2 L306.9 839.5 L308.4 840.8 L309.9 842.0 L310.1 842.2 L311.4 843.4 L312.9 844.9 L314.4 846.5 L315.9 848.2 L317.4 849.9 L318.9 851.6 L320.4 853.3 L321.9 854.9 L323.4 856.3 L324.9 857.6 L326.4 858.6 L326.7 858.8 L327.9 859.4 L329.4 860.2 L330.9 860.8 L332.4 861.4 L333.9 861.9 L335.4 862.4 L336.9 862.9 L338.4 863.3 L339.9 863.8 L341.4 864.2 L342.9 864.7 L344.4 865.3 L345.9 865.8 L347.4 866.4 L348.8 867.1 L348.9 867.1 L350.4 867.9 L351.9 868.8 L353.4 869.7 L354.9 870.7 L356.4 871.8 L357.9 872.9 L359.4 874.0 L360.9 875.2 L362.4 876.4 L363.9 877.6 L365.4 878.8 L366.9 880.1 L368.4 881.3 L369.9 882.5 L371.4 883.6 L372.9 884.8 L374.4 885.9 L375.9 886.9 L376.5 887.3 L377.4 887.9 L378.9 888.9 L380.4 889.8 L381.9 890.7 L383.4 891.6 L384.9 892.5 L386.4 893.4 L387.9 894.3 L389.4 895.2 L390.9 896.0 L392.4 896.9 L393.9 897.8 L395.4 898.6 L396.9 899.5 L398.4 900.4 L399.9 901.3 L401.4 902.3 L402.9 903.2 L404.1 904.0 L404.4 904.2 L405.9 905.2 L407.4 906.2 L408.9 907.3 L410.4 908.4 L411.9 909.5 L413.4 910.6 L414.9 911.7 L416.4 912.8 L417.9 913.9 L419.4 915.0 L420.9 916.1 L422.4 917.1 L423.9 918.1 L425.4 919.1 L426.2 919.6 L426.9 920.0 L428.4 921.0 L429.9 921.9 L431.4 922.8 L432.9 923.7 L434.4 924.6 L435.9 925.5 L437.4 926.4 L438.9 927.2 L440.4 928.0 L441.9 928.8 L443.4 929.5 L444.9 930.2 L446.4 930.8 L447.9 931.4 L448.3 931.5 L449.4 931.9 L450.9 932.4 L452.4 932.9 L453.9 933.4 L455.4 933.9 L456.9 934.4 L458.4 934.9 L459.9 935.3 L461.4 935.7 L462.9 936.1 L464.4 936.4 L465.9 936.6 L467.4 936.8 L468.9 937.0 L470.4 937.0 L470.5 937.0 L471.9 937.0 L473.4 936.9 L474.9 936.8 L476.4 936.7 L477.9 936.5 L479.4 936.3 L480.9 936.0 L482.4 935.7 L483.9 935.4 L485.4 935.1 L486.9 934.8 L488.4 934.4 L489.9 934.1 L491.4 933.7 L492.6 933.4 L492.9 933.3 L494.4 932.9 L495.9 932.3 L497.4 931.6 L498.9 930.9 L500.4 930.0 L501.9 929.1 L503.4 928.2 L504.9 927.2 L506.4 926.2 L507.9 925.2 L509.4 924.3 L510.9 923.3 L512.4 922.3 L513.9 921.5 L514.7 921.0 L515.4 920.6 L516.9 919.8 L518.4 918.9 L519.9 918.0 L521.4 917.1 L522.9 916.2 L524.4 915.3 L525.9 914.4 L527.4 913.5 L528.9 912.6 L530.4 911.7 L531.9 910.9 L533.4 910.1 L534.9 909.3 L536.4 908.5 L537.9 907.8 L539.4 907.1 L540.9 906.4 L542.4 905.8 L543.9 905.2 L545.4 904.7 L546.9 904.2 L548.4 903.7 L549.9 903.2 L551.4 902.7 L552.9 902.3 L554.4 901.9 L555.9 901.4 L557.4 901.0 L558.9 900.6 L560.4 900.2 L561.9 899.8 L563.4 899.4 L564.9 899.0 L566.4 898.5 L567.9 898.1 L569.4 897.7 L570.0 897.5 L570.9 897.2 L572.4 896.8 L573.9 896.3 L575.4 895.9 L576.9 895.5 L578.4 895.0 L579.9 894.6 L581.4 894.2 L582.9 893.7 L584.4 893.3 L585.9 892.8 L587.4 892.4 L588.9 892.0 L590.4 891.5 L591.9 891.0 L593.4 890.6 L594.9 890.1 L596.4 889.6 L597.7 889.2 L597.9 889.1 L599.4 888.6 L600.9 888.1 L602.4 887.6 L603.9 887.1 L605.4 886.6 L606.9 886.0 L608.4 885.5 L609.9 884.9 L611.4 884.4 L612.9 883.8 L614.4 883.3 L615.9 882.7 L617.4 882.1 L618.9 881.6 L620.4 881.0 L621.9 880.4 L623.4 879.9 L624.9 879.3 L626.4 878.7 L627.9 878.1 L629.4 877.6 L630.9 877.0 L632.4 876.5 L633.9 875.9 L635.4 875.3 L636.9 874.8 L638.4 874.3 L639.1 874.0 L639.9 873.7 L641.4 873.2 L642.9 872.6 L644.4 872.1 L645.9 871.5 L647.4 870.9 L648.9 870.4 L650.4 869.8 L651.9 869.3 L653.4 868.7 L654.9 868.2 L656.4 867.6 L657.9 867.1 L659.4 866.6 L660.9 866.1 L662.4 865.6 L663.9 865.1 L665.4 864.6 L666.9 864.1 L668.4 863.7 L669.0 863.5 L669.9 863.2 L671.4 862.8 L672.9 862.4 L674.4 862.0 L675.9 861.7 L677.4 861.3 L678.9 861.0 L680.4 860.6 L681.9 860.3 L683.4 859.9 L684.9 859.6 L686.4 859.2 L687.9 858.9 L689.4 858.6 L690.9 858.2 L692.4 857.9 L693.9 857.5 L695.4 857.2 L696.9 856.8 L698.4 856.4 L699.9 856.0 L700.0 856.0 L701.4 855.6 L702.9 855.1 L704.4 854.6 L705.9 854.0 L707.4 853.4 L708.9 852.8 L710.4 852.3 L711.9 851.7 L713.4 851.3 L714.9 850.8 L716.4 850.5 L717.9 850.2 L719.4 850.0 L720.6 850.0 L720.9 850.0 L722.4 850.1 L723.9 850.2 L725.4 850.3 L726.9 850.6 L728.4 850.8 L729.9 851.2 L731.4 851.5 L732.9 851.8 L734.4 852.2 L735.9 852.6 L737.4 853.0 L738.9 853.3 L740.4 853.6 L741.9 854.0 L743.4 854.2 L744.9 854.5 L746.4 854.6 L747.9 854.7 L749.4 854.8 L749.7 854.8 L750.9 854.8 L752.4 854.8 L753.9 854.8 L755.4 854.8 L756.9 854.8 L758.4 854.8 L759.9 854.8 L761.4 854.8 L762.9 854.8 L764.4 854.8 L765.9 854.8 L767.4 854.8 L768.9 854.8 L770.4 854.8 L771.9 854.8 L772.3 854.8 L773.4 855.0 L774.9 855.9 L776.4 857.3 L777.9 859.0 L779.4 860.9 L780.9 862.7 L782.4 864.3 L783.9 865.5 L785.4 866.1 L785.8 866.1 L786.9 865.8 L788.4 864.5 L789.9 862.3 L791.4 859.7 L792.9 856.8 L794.4 853.9 L795.9 851.2 L797.4 849.1 L798.1 848.4 L798.9 847.7 L800.4 846.3 L801.9 844.9 L803.4 843.6 L804.9 842.3 L806.4 841.1 L807.9 839.9 L809.4 838.9 L810.9 838.0 L812.4 837.3 L813.9 836.7 L815.4 836.3 L816.9 836.1 L817.4 836.1 L818.4 836.2 L819.9 836.8 L821.4 837.8 L822.9 839.0 L824.4 840.3 L825.9 841.5 L827.4 842.5 L828.9 843.3 L830.3 843.5 L830.4 843.5 L831.9 842.9 L833.4 841.3 L834.9 839.1 L836.4 836.5 L837.9 833.8 L839.4 831.2 L840.9 829.1 L842.4 827.7 L843.2 827.4 L843.9 827.2 L845.4 826.9 L846.9 826.6 L848.4 826.3 L849.9 826.0 L851.4 825.7 L852.9 825.5 L854.4 825.2 L855.9 825.0 L857.4 824.8 L858.9 824.6 L860.4 824.4 L861.9 824.2 L863.4 824.1 L864.9 823.9 L866.4 823.8 L867.9 823.6 L869.4 823.5 L870.9 823.4 L872.4 823.3 L873.9 823.2 L875.4 823.1 L876.9 823.0 L878.4 822.9 L879.9 822.8 L881.4 822.7 L882.9 822.6 L884.4 822.5 L885.9 822.4 L887.4 822.3 L888.9 822.3 L890.4 822.2 L891.9 822.1 L893.4 822.0 L894.8 821.9 L894.9 821.9 L896.4 821.8 L897.9 821.7 L899.4 821.6 L900.9 821.5 L902.4 821.4 L903.9 821.3 L905.4 821.2 L906.9 821.1 L908.4 821.0 L909.9 820.9 L911.4 820.8 L912.9 820.7 L914.4 820.6 L915.9 820.6 L917.4 820.5 L918.9 820.4 L920.4 820.3 L921.9 820.2 L923.4 820.1 L924.9 820.0 L926.4 819.9 L927.9 819.8 L929.4 819.8 L930.9 819.7 L932.4 819.6 L933.9 819.5 L935.4 819.4 L936.9 819.3 L938.4 819.3 L939.9 819.2 L941.4 819.1 L942.9 819.0 L944.4 819.0 L945.9 818.9 L947.4 818.8 L948.9 818.8 L950.4 818.7 L951.9 818.6 L953.4 818.6 L954.9 818.5 L956.4 818.4 L957.9 818.4 L959.4 818.3 L960.9 818.3 L962.4 818.2 L963.9 818.2 L965.4 818.1 L966.9 818.1 L968.4 818.0 L969.9 818.0 L971.4 818.0 L972.9 817.9 L974.4 817.9 L975.9 817.9 L977.4 817.8 L978.9 817.8 L980.4 817.8 L981.9 817.8 L983.4 817.7 L984.9 817.7 L986.4 817.7 L987.9 817.7 L989.4 817.7 L990.9 817.7 L991.6 817.7 L992.4 817.7 L993.9 817.7 L995.4 817.7 L996.9 817.7 L998.4 817.7 L999.9 817.7 L1001.4 817.7 L1002.9 817.7 L1004.4 817.7 L1005.9 817.7 L1007.4 817.7 L1008.9 817.7 L1010.4 817.7 L1011.9 817.7 L1013.4 817.7 L1014.9 817.7 L1016.4 817.7 L1017.9 817.7 L1019.4 817.7 L1020.9 817.7 L1022.4 817.7 L1023.9 817.7 L1025.4 817.7 L1026.9 817.7 L1028.4 817.7 L1029.9 817.7 L1031.4 817.7 L1032.9 817.7 L1034.4 817.7 L1035.9 817.7 L1037.4 817.7 L1038.9 817.7 L1040.4 817.7 L1041.9 817.7 L1043.4 817.7 L1044.9 817.7 L1046.4 817.7 L1047.9 817.7 L1049.4 817.7 L1050.9 817.7 L1052.4 817.7 L1053.9 817.7 L1055.4 817.7 L1056.9 817.7 L1058.4 817.7 L1059.9 817.7 L1061.4 817.7 L1062.9 817.7 L1064.4 817.7 L1065.9 817.7 L1067.4 817.7 L1068.9 817.7 L1070.4 817.7 L1071.9 817.7 L1073.4 817.7 L1074.9 817.7 L1076.4 817.7 L1077.9 817.7 L1079.4 817.7 L1080.9 817.7 L1082.4 817.7 L1083.9 817.7 L1085.4 817.7 L1086.9 817.7 L1088.4 817.7 L1089.9 817.7 L1091.4 817.7 L1092.9 817.7 L1094.4 817.7 L1095.9 817.7 L1097.4 817.7 L1098.9 817.7 L1100.4 817.7 L1101.9 817.7 L1103.4 817.7 L1104.9 817.7 L1106.4 817.7 L1107.9 817.7 L1109.4 817.7 L1110.9 817.7 L1112.4 817.7 L1113.9 817.7 L1115.4 817.7 L1116.9 817.7 L1118.4 817.7 L1119.9 817.7 L1120.6 817.7 L1121.4 817.7 L1122.9 817.5 L1124.4 817.2 L1125.9 816.8 L1127.4 816.3 L1128.9 815.8 L1130.4 815.3 L1131.9 814.8 L1133.4 814.3 L1134.9 813.9 L1136.4 813.6 L1137.9 813.5 L1138.4 813.5 L1139.4 813.6 L1140.9 813.8 L1142.4 814.2 L1143.9 814.8 L1145.4 815.4 L1146.9 816.0 L1148.4 816.6 L1149.9 817.1 L1151.4 817.5 L1152.9 817.7 L1154.4 817.8 L1155.9 817.8 L1157.4 817.9 L1158.9 817.9 L1160.4 818.0 L1161.9 818.0 L1163.4 818.1 L1164.9 818.1 L1166.4 818.2 L1167.9 818.2 L1169.4 818.3 L1170.9 818.3 L1172.4 818.3 L1173.9 818.3 L1175.4 818.4 L1176.9 818.4 L1178.4 818.4 L1179.9 818.4 L1181.4 818.5 L1182.9 818.5 L1184.4 818.5 L1185.9 818.5 L1187.4 818.5 L1188.9 818.5 L1190.4 818.5 L1191.9 818.6 L1193.4 818.6 L1194.9 818.6 L1196.4 818.6 L1197.9 818.6 L1199.4 818.6 L1200.9 818.6 L1202.4 818.6 L1203.9 818.6 L1205.4 818.7 L1206.9 818.7 L1208.4 818.7 L1209.9 818.7 L1211.4 818.7 L1212.9 818.7 L1214.4 818.7 L1215.9 818.8 L1217.4 818.8 L1218.9 818.8 L1220.4 818.8 L1221.9 818.9 L1223.4 818.9 L1224.9 818.9 L1226.4 819.0 L1227.9 819.0 L1229.4 819.0 L1230.9 819.1 L1232.4 819.1 L1233.9 819.2 L1235.4 819.2 L1236.9 819.3 L1238.4 819.3 L1239.9 819.4 L1240.0 819.4 L1241.4 819.5 L1242.9 819.6 L1244.4 819.7 L1245.9 819.8 L1247.4 820.0 L1248.9 820.2 L1250.4 820.5 L1251.9 820.9 L1253.4 821.3 L1254.9 821.7 L1255.6 822.0 L1256.4 823.0 L1257.9 826.4 L1258.7 827.2 L1259.4 826.5 L1260.9 823.1 L1261.8 822.0 L1262.4 822.0 L1263.9 822.0 L1265.4 822.0 L1266.9 822.0 L1268.4 822.0 L1269.9 822.1 L1271.4 822.1 L1272.9 822.1 L1274.4 822.1 L1275.9 822.2 L1277.4 822.2 L1278.9 822.2 L1280.4 822.3 L1281.9 822.3 L1283.4 822.4 L1284.9 822.4 L1286.4 822.5 L1287.9 822.5 L1289.4 822.6 L1290.9 822.6 L1292.4 822.7 L1293.9 822.7 L1295.4 822.8 L1296.9 822.9 L1298.4 822.9 L1299.9 823.0 L1301.4 823.1 L1302.9 823.2 L1304.4 823.2 L1305.9 823.3 L1307.4 823.4 L1308.9 823.5 L1310.4 823.6 L1311.9 823.6 L1313.4 823.7 L1314.9 823.8 L1316.4 823.9 L1317.9 824.0 L1319.4 824.1 L1320.9 824.2 L1322.4 824.2 L1323.9 824.3 L1325.4 824.4 L1326.9 824.5 L1328.4 824.6 L1329.9 824.7 L1331.4 824.8 L1332.9 824.9 L1334.4 825.0 L1335.9 825.0 L1337.4 825.1 L1338.9 825.2 L1340.4 825.3 L1341.9 825.4 L1343.4 825.5 L1344.9 825.6 L1346.4 825.7 L1347.9 825.7 L1349.0 825.8 L1349.4 825.8 L1350.9 825.9 L1352.4 826.0 L1353.9 826.1 L1355.4 826.2 L1356.9 826.3 L1358.4 826.3 L1359.9 826.4 L1361.4 826.5 L1362.9 826.6 L1364.4 826.7 L1365.9 826.8 L1367.4 826.9 L1368.9 827.0 L1370.4 827.1 L1371.9 827.2 L1373.4 827.3 L1374.9 827.4 L1376.4 827.5 L1377.9 827.6 L1379.4 827.7 L1380.9 827.8 L1382.4 827.9 L1383.9 828.1 L1385.4 828.2 L1386.9 828.3 L1388.4 828.4 L1389.9 828.5 L1391.4 828.6 L1392.9 828.8 L1394.4 828.9 L1395.9 829.0 L1397.4 829.1 L1398.9 829.3 L1400.4 829.4 L1401.9 829.5 L1403.4 829.7 L1404.9 829.8 L1406.4 829.9 L1407.9 830.1 L1409.4 830.2 L1410.9 830.3 L1412.4 830.5 L1413.5 830.6 L1413.9 830.6 L1415.4 830.8 L1416.9 831.0 L1418.4 831.2 L1419.9 831.4 L1421.4 831.7 L1422.9 831.9 L1424.4 832.2 L1425.9 832.4 L1427.4 832.7 L1428.9 833.0 L1430.4 833.2 L1431.9 833.5 L1433.4 833.7 L1434.9 833.9 L1436.4 834.1 L1437.9 834.3 L1439.4 834.5 L1440.9 834.6 L1442.4 834.7 L1443.9 834.8 L1445.4 834.8 L1445.8 834.8 L1446.9 834.8 L1448.4 834.7 L1449.9 834.6 L1451.4 834.5 L1452.9 834.3 L1454.4 834.1 L1455.9 833.8 L1457.4 833.6 L1458.9 833.3 L1460.4 833.0 L1461.9 832.7 L1463.4 832.4 L1464.9 832.1 L1466.4 831.9 L1467.9 831.6 L1469.4 831.3 L1470.9 831.1 L1472.4 830.9 L1473.9 830.8 L1475.4 830.7 L1476.9 830.6 L1478.1 830.6 L1478.4 830.6 L1479.9 830.6 L1481.4 830.6 L1482.9 830.6 L1484.4 830.7 L1485.9 830.7 L1487.4 830.7 L1488.9 830.8 L1490.4 830.8 L1491.9 830.9 L1493.4 831.0 L1494.9 831.1 L1496.4 831.1 L1497.9 831.2 L1499.4 831.3 L1500.9 831.4 L1502.4 831.6 L1503.9 831.7 L1505.4 831.8 L1506.9 832.0 L1508.4 832.1 L1509.9 832.3 L1510.3 832.3 L1511.4 832.5 L1512.9 832.9 L1514.4 833.4 L1515.9 834.1 L1517.4 834.9 L1518.9 835.9 L1520.4 836.9 L1521.9 838.1 L1523.4 839.3 L1524.9 840.5 L1526.4 841.8 L1526.5 841.9 L1527.9 843.4 L1529.4 845.4 L1530.9 847.8 L1532.4 850.3 L1533.9 852.9 L1535.4 855.2 L1536.9 857.2 L1537.7 858.1 L1538.4 858.8 L1539.9 860.3 L1541.4 861.9 L1542.9 863.4 L1544.4 864.7 L1545.9 865.9 L1547.4 866.8 L1548.9 867.4 L1550.4 867.7 L1550.6 867.7 L1551.9 867.4 L1553.4 866.6 L1554.9 865.4 L1556.4 863.8 L1557.9 862.1 L1559.4 860.4 L1560.9 858.8 L1562.4 857.6 L1563.9 856.8 L1565.2 856.5 L1565.4 856.5 L1566.9 856.8 L1568.4 857.5 L1569.9 858.5 L1571.4 859.7 L1572.9 861.1 L1574.4 862.6 L1575.9 864.1 L1577.4 865.5 L1578.1 866.1 L1578.9 866.8 L1580.4 868.4 L1581.9 870.3 L1583.4 872.2 L1584.9 874.3 L1586.4 876.2 L1587.9 878.1 L1589.4 879.7 L1590.9 881.0 L1592.4 881.9 L1593.9 882.3 L1594.2 882.3 L1595.4 882.0 L1596.9 881.1 L1598.4 879.6 L1599.9 877.7 L1601.4 875.5 L1602.9 873.3 L1604.4 871.1 L1605.9 869.0 L1607.1 867.7 L1607.4 867.4 L1608.9 865.8 L1610.4 864.2 L1611.9 862.5 L1613.4 860.9 L1614.9 859.3 L1616.4 857.8 L1617.9 856.5 L1619.4 855.3 L1620.9 854.3 L1622.4 853.5 L1623.2 853.2 L1623.9 853.0 L1625.4 852.5 L1626.9 852.1 L1628.4 851.6 L1629.9 851.3 L1631.4 850.9 L1632.9 850.5 L1634.4 850.2 L1635.9 849.9 L1637.4 849.7 L1638.9 849.5 L1640.4 849.3 L1641.9 849.2 L1643.4 849.1 L1644.9 849.0 L1645.8 849.0 L1646.4 849.0 L1647.9 849.0 L1649.4 849.0 L1650.9 849.1 L1652.4 849.2 L1653.9 849.2 L1655.4 849.3 L1656.9 849.4 L1658.4 849.5 L1659.9 849.7 L1661.4 849.8 L1662.9 849.9 L1664.4 850.1 L1665.9 850.3 L1667.4 850.4 L1668.9 850.6 L1670.4 850.8 L1671.6 851.0 L1671.9 851.0 L1673.4 851.3 L1674.9 851.8 L1676.4 852.3 L1677.9 852.9 L1679.4 853.6 L1680.9 854.3 L1682.4 855.1 L1683.9 856.0 L1685.4 856.8 L1686.9 857.7 L1687.7 858.1 L1688.4 858.5 L1689.9 859.6 L1691.4 860.9 L1692.9 862.4 L1694.4 863.9 L1695.9 865.4 L1697.4 866.9 L1698.9 868.1 L1700.4 869.2 L1701.9 869.9 L1703.4 870.3 L1703.9 870.3 L1704.9 870.3 L1706.4 870.1 L1707.9 869.9 L1709.4 869.6 L1710.9 869.3 L1712.4 868.9 L1713.9 868.5 L1715.4 868.2 L1716.9 868.0 L1718.4 867.8 L1719.9 867.7 L1720.0 867.7 L1721.4 867.9 L1722.9 868.5 L1724.4 869.5 L1725.9 870.7 L1727.4 872.0 L1728.9 873.5 L1730.4 874.9 L1731.9 876.3 L1733.4 877.5 L1734.9 878.5 L1736.1 879.0 L1736.4 879.1 L1737.9 879.6 L1739.4 880.0 L1740.9 880.3 L1742.4 880.6 L1743.9 880.9 L1745.4 881.1 L1746.9 881.4 L1748.4 881.6 L1749.9 881.8 L1751.4 882.0 L1752.9 882.3 L1754.4 882.5 L1755.9 882.8 L1757.4 883.2 L1758.9 883.5 L1760.4 884.0 L1761.9 884.5 L1763.4 885.2 L1764.9 886.0 L1766.4 887.1 L1767.9 888.4 L1769.4 889.8 L1770.9 891.3 L1772.4 893.0 L1773.9 894.7 L1775.4 896.6 L1776.9 898.5 L1778.1 900.0 L1778.4 900.4 L1779.9 902.6 L1781.4 905.2 L1782.9 908.0 L1784.4 911.1 L1785.9 914.4 L1787.4 917.7 L1788.9 921.0 L1790.4 924.3 L1791.9 927.6 L1793.4 930.6 L1793.6 931.0 L1794.9 933.4 L1796.4 936.0 L1797.9 938.5 L1799.4 940.9 L1800.9 943.4 L1802.4 945.9 L1803.9 948.6 L1805.4 951.6 L1806.9 954.9 L1808.4 958.7 L1808.9 960.0 L1809.9 963.0 L1811.4 968.4 L1812.9 974.7 L1814.4 981.8 L1815.9 989.4 L1817.4 997.4 L1818.9 1006.3 L1820.4 1016.5 L1821.9 1027.4 L1823.4 1038.9 L1824.2 1045.0 L1824.9 1050.4 L1826.4 1062.5 L1827.9 1075.0 L1829.4 1088.1 L1830.9 1101.8 L1831.0 1102.7 L1832.4 1116.8 L1833.9 1132.9 L1835.4 1148.2 L1836.0 1153.7 L1836.9 1161.5 L1838.4 1174.3 L1839.9 1186.3 L1841.4 1196.7 L1842.8 1204.6 L1842.9 1205.1 L1844.4 1212.1 L1845.9 1218.6 L1847.4 1224.6 L1848.9 1230.0 L1850.4 1234.9 L1851.9 1239.1 L1853.4 1242.8 L1854.7 1245.4 L1854.9 1245.8 L1856.4 1248.3 L1857.9 1250.6 L1859.4 1252.7 L1860.9 1254.6 L1862.4 1256.3 L1863.9 1257.9 L1865.4 1259.4 L1866.9 1260.9 L1868.4 1262.4 L1869.9 1263.9 L1871.4 1265.5 L1871.7 1265.8 L1872.9 1267.1 L1874.4 1268.6 L1875.9 1270.1 L1877.4 1271.6 L1878.9 1273.0 L1880.4 1274.4 L1881.9 1275.7 L1883.4 1277.1 L1884.9 1278.5 L1886.4 1279.9 L1887.9 1281.3 L1889.4 1282.8 L1890.9 1284.3 L1892.4 1285.9 L1893.9 1287.6 L1895.4 1289.4 L1895.5 1289.5 L1896.9 1291.3 L1898.4 1293.4 L1899.9 1295.7 L1901.4 1298.2 L1902.9 1300.6 L1904.4 1303.2 L1905.9 1305.7 L1907.4 1308.1 L1908.9 1310.5 L1910.4 1312.7 L1911.9 1314.7 L1912.5 1315.5 L1913.4 1316.6 L1914.9 1318.7 L1916.4 1320.8 L1917.9 1322.8 L1919.4 1324.7 L1920.9 1326.4 L1922.4 1327.7 L1923.9 1328.6 L1925.4 1328.9 L1926.9 1328.6 L1928.4 1327.9 L1929.9 1326.7 L1931.4 1325.1 L1932.9 1323.2 L1934.4 1321.1 L1935.9 1318.7 L1937.4 1316.2 L1938.9 1313.6 L1939.7 1312.2 L1940.4 1310.9 L1941.9 1307.6 L1943.4 1303.7 L1944.9 1299.2 L1946.4 1294.1 L1947.9 1288.4 L1949.4 1282.2 L1950.9 1275.4 L1951.5 1272.6 L1952.4 1267.8 L1953.9 1257.9 L1955.4 1246.3 L1956.9 1233.7 L1958.3 1221.6 L1958.4 1220.7 L1959.9 1207.4 L1961.4 1193.1 L1962.9 1177.9 L1964.4 1161.6 L1965.1 1153.7 L1965.9 1144.1 L1967.4 1124.3 L1968.9 1103.5 L1970.2 1085.7 L1970.4 1083.0 L1971.9 1063.1 L1973.4 1043.1 L1974.9 1023.1 L1975.3 1017.8 L1976.4 1002.8 L1977.9 982.0 L1979.4 962.0 L1980.4 949.9 L1980.9 944.1 L1982.4 927.1 L1983.9 910.9 L1985.4 896.3 L1986.9 884.0 L1987.2 881.9 L1988.4 873.7 L1989.9 864.3 L1991.4 857.2 L1992.3 854.7 L1992.9 853.6 L1994.4 851.0 L1995.9 849.1 L1997.4 848.0 L1998.1 847.9 L1998.9 848.2 L2000.4 849.8 L2001.9 852.6 L2003.4 856.0 L2004.9 859.6 L2006.4 862.9 L2007.6 864.9 L2007.9 865.3 L2009.4 867.5 L2010.9 869.8 L2012.4 872.1 L2013.9 874.2 L2015.4 876.2 L2016.9 877.9 L2018.4 879.2 L2019.9 880.0 L2021.2 880.2 L2021.4 880.2 L2022.9 879.7 L2024.4 878.5 L2025.9 876.7 L2027.4 874.5 L2028.9 871.9 L2030.4 869.2 L2031.9 866.5 L2033.4 863.8 L2034.8 861.5 L2034.9 861.3 L2036.4 858.9 L2037.9 856.3 L2039.4 853.5 L2040.9 850.7 L2042.4 847.8 L2043.9 844.8 L2045.4 841.9 L2046.9 839.1 L2048.4 836.4 L2049.9 833.9 L2051.4 831.5 L2051.8 830.9 L2052.9 829.3 L2054.4 827.1 L2055.9 824.9 L2057.4 822.8 L2058.9 820.8 L2060.4 818.9 L2061.9 817.2 L2063.4 815.7 L2064.9 814.4 L2065.4 814.0 L2066.4 813.3 L2067.9 812.1 L2069.4 811.1 L2070.9 810.1 L2072.4 809.4 L2073.9 809.0 L2074.9 808.9 L2075.4 809.0 L2076.9 809.7 L2078.4 811.2 L2079.9 813.4 L2081.4 816.2 L2082.9 819.4 L2084.4 822.9 L2085.9 826.7 L2086.2 827.5 L2087.4 831.5 L2088.9 838.8 L2090.4 847.6 L2091.9 857.2 L2093.4 866.8 L2094.8 875.0 L2094.9 875.5 L2096.4 884.3 L2097.9 893.5 L2099.4 902.7 L2100.9 911.2 L2102.4 918.1 L2103.8 922.7 L2103.9 922.9 L2105.4 926.6 L2106.9 930.0 L2108.4 933.1 L2109.9 935.7 L2111.4 937.6 L2112.9 938.7 L2114.0 939.0 L2114.4 938.9 L2115.9 937.9 L2117.4 935.7 L2118.9 932.5 L2120.4 928.7 L2121.9 924.5 L2122.5 922.7 L2123.4 919.5 L2124.9 911.9 L2126.4 902.4 L2127.9 891.9 L2129.3 881.9 L2129.4 881.2 L2130.9 867.7 L2132.4 852.8 L2133.9 842.4 L2134.3 841.1 L2135.4 838.8 L2136.9 836.3 L2138.4 834.2 L2139.9 832.6 L2141.4 831.3 L2142.9 830.2 L2144.4 829.4 L2144.5 829.3 L2145.9 828.5 L2147.4 827.8 L2148.9 827.0 L2150.4 826.4 L2151.9 825.7 L2153.4 825.1 L2154.9 824.6 L2156.4 824.1 L2157.9 823.7 L2159.4 823.3 L2160.9 823.0 L2162.4 822.8 L2163.9 822.6 L2164.9 822.5 L2165.4 822.5 L2166.9 822.4 L2168.4 822.3 L2169.9 822.2 L2171.4 822.1 L2172.9 822.0 L2174.4 822.0 L2175.9 821.9 L2177.4 821.8 L2178.9 821.8 L2180.4 821.7 L2181.9 821.7 L2183.4 821.6 L2184.9 821.6 L2186.4 821.6 L2187.9 821.5 L2189.4 821.5 L2190.9 821.5 L2192.4 821.4 L2193.9 821.4 L2195.4 821.4 L2196.9 821.4 L2198.4 821.4 L2198.9 821.4 L2199.9 821.5 L2201.4 821.8 L2202.9 822.4 L2204.4 823.3 L2205.9 824.3 L2207.4 825.4 L2208.9 826.7 L2210.4 828.0 L2211.9 829.3 L2213.4 830.7 L2214.9 831.9 L2215.9 832.7 L2216.4 833.1 L2217.9 834.2 L2219.4 835.4 L2220.9 836.6 L2222.4 837.8 L2223.9 839.0 L2225.4 840.3 L2226.9 841.7 L2228.4 843.1 L2229.9 844.6 L2231.4 846.2 L2232.9 847.9 L2234.4 849.8 L2235.9 851.9 L2237.4 854.3 L2238.9 856.8 L2240.4 859.5 L2241.9 862.2 L2243.4 865.1 L2244.9 867.9 L2246.4 870.7 L2247.9 873.5 L2249.4 876.1 L2249.8 876.8 L2250.9 878.7 L2252.4 881.5 L2253.9 884.3 L2255.4 887.2 L2256.9 890.1 L2258.4 893.0 L2259.9 895.7 L2261.4 898.3 L2262.9 900.7 L2264.4 902.9 L2265.9 904.7 L2266.8 905.7 L2267.4 906.3 L2268.9 907.5 L2270.4 908.6 L2271.9 909.5 L2273.4 910.3 L2274.9 911.1 L2276.4 911.8 L2277.9 912.7 L2279.4 913.6 L2280.9 914.7 L2282.4 916.1 L2283.8 917.6 L2283.9 917.7 L2285.4 920.0 L2286.9 923.0 L2288.4 926.8 L2289.9 931.3 L2291.4 936.4 L2292.3 939.7 L2292.9 942.1 L2294.4 949.5 L2295.9 958.7 L2297.4 969.6 L2298.9 982.0 L2299.1 983.8 L2300.4 997.9 L2301.9 1018.5 L2303.4 1040.6 L2304.2 1051.7 L2304.9 1061.2 L2306.4 1082.1 L2307.9 1102.4 L2309.3 1119.7 L2309.4 1120.8 L2310.9 1138.3 L2312.4 1154.7 L2313.9 1167.5 L2314.4 1170.6 L2315.4 1176.0 L2316.9 1183.5 L2318.4 1189.7 L2319.9 1193.8 L2321.2 1195.1 L2321.4 1195.1 L2322.9 1193.0 L2324.4 1188.2 L2325.9 1181.5 L2327.4 1173.8 L2328.0 1170.6 L2328.9 1164.8 L2330.4 1151.3 L2331.9 1135.0 L2333.4 1117.8 L2334.8 1102.7 L2334.9 1101.7 L2336.4 1086.7 L2337.9 1071.8 L2339.4 1056.8 L2340.9 1041.8 L2341.6 1034.8 L2342.4 1026.8 L2343.9 1011.8 L2345.4 996.8 L2346.9 981.8 L2348.4 966.8 L2349.9 951.3 L2351.4 935.4 L2352.9 919.9 L2354.4 905.7 L2355.2 898.9 L2355.9 893.5 L2357.4 883.0 L2358.9 873.3 L2360.2 864.9 L2360.4 863.6 L2361.9 853.7 L2363.4 843.9 L2364.0 840.0 L2364.9 834.2 L2366.4 824.8 L2366.6 823.5" stroke="#f00"/>
<path d="M114.9 1054.3 L116.4 1054.6 L116.6 1054.6 L117.9 1054.8 L119.4 1055.1 L120.9 1055.4 L122.4 1055.7 L123.9 1056.0 L125.4 1056.3 L126.9 1056.7 L128.4 1057.0 L129.9 1057.3 L131.4 1057.6 L132.9 1057.9 L134.4 1058.3 L135.9 1058.6 L137.4 1058.9 L138.9 1059.3 L140.4 1059.6 L141.9 1059.9 L143.4 1060.3 L144.9 1060.6 L146.4 1060.9 L147.9 1061.3 L149.4 1061.6 L150.9 1061.9 L152.4 1062.3 L153.9 1062.6 L155.3 1062.9 L155.4 1062.9 L156.9 1063.2 L158.4 1063.6 L159.9 1063.9 L161.4 1064.2 L162.9 1064.6 L164.4 1064.9 L165.9 1065.2 L167.4 1065.6 L168.9 1065.9 L170.4 1066.2 L171.9 1066.6 L173.4 1066.9 L174.9 1067.2 L176.4 1067.6 L177.9 1067.9 L179.4 1068.2 L180.9 1068.5 L182.4 1068.9 L183.9 1069.2 L185.4 1069.5 L186.9 1069.9 L188.4 1070.2 L189.9 1070.5 L191.4 1070.8 L192.9 1071.2 L194.4 1071.5 L195.9 1071.8 L196.8 1072.0 L197.4 1072.1 L198.9 1072.4 L200.4 1072.7 L201.9 1073.0 L203.4 1073.3 L204.9 1073.6 L206.4 1073.9 L207.9 1074.2 L209.4 1074.5 L210.9 1074.7 L212.4 1075.0 L213.9 1075.3 L215.4 1075.6 L216.9 1075.9 L218.4 1076.2 L219.9 1076.5 L221.4 1076.8 L222.9 1077.1 L224.4 1077.4 L225.9 1077.8 L227.4 1078.1 L228.9 1078.4 L230.4 1078.8 L231.9 1079.2 L232.7 1079.4 L233.4 1079.6 L234.9 1080.0 L236.4 1080.4 L237.9 1080.8 L239.4 1081.2 L240.9 1081.7 L242.4 1082.2 L243.9 1082.6 L245.4 1083.1 L246.9 1083.6 L248.4 1084.1 L249.9 1084.7 L251.4 1085.2 L252.9 1085.8 L254.4 1086.4 L255.9 1087.1 L257.4 1087.7 L258.9 1088.4 L260.4 1089.1 L261.9 1089.9 L263.4 1090.7 L264.9 1091.6 L266.4 1092.6 L267.9 1093.6 L269.4 1094.6 L270.9 1095.8 L272.4 1096.9 L273.9 1098.1 L275.4 1099.3 L276.9 1100.6 L278.4 1101.8 L279.7 1102.9 L279.9 1103.1 L281.4 1104.3 L282.9 1105.5 L284.4 1106.8 L285.9 1108.1 L287.4 1109.5 L288.9 1111.0 L290.4 1112.7 L291.9 1114.6 L293.4 1116.7 L293.5 1116.8 L294.9 1119.1 L296.4 1122.2 L297.9 1125.7 L299.4 1129.7 L300.9 1134.1 L302.4 1138.9 L303.2 1141.6 L303.9 1144.2 L305.4 1150.7 L306.9 1158.3 L308.4 1166.2 L309.9 1173.8 L310.1 1174.8 L311.4 1181.2 L312.9 1188.7 L314.4 1196.1 L315.9 1203.2 L317.0 1208.0 L317.4 1209.7 L318.9 1215.8 L320.4 1221.6 L321.9 1227.1 L323.4 1232.3 L324.9 1237.2 L325.3 1238.4 L326.4 1241.7 L327.9 1246.1 L329.4 1250.3 L330.9 1254.2 L332.4 1257.9 L333.9 1261.1 L335.0 1263.3 L335.4 1264.0 L336.9 1266.6 L338.4 1269.0 L339.9 1271.2 L341.4 1273.3 L342.9 1275.3 L344.4 1277.2 L345.9 1279.1 L347.4 1280.9 L348.8 1282.7 L348.9 1282.8 L350.4 1284.7 L351.9 1286.5 L353.4 1288.2 L354.9 1289.9 L356.4 1291.6 L357.9 1293.3 L359.4 1294.9 L360.9 1296.6 L362.4 1298.2 L363.9 1299.9 L365.4 1301.5 L366.9 1303.3 L368.2 1304.8 L368.4 1305.0 L369.9 1306.8 L371.4 1308.6 L372.9 1310.5 L374.4 1312.3 L375.9 1314.1 L377.4 1316.0 L378.9 1317.8 L380.4 1319.7 L381.9 1321.6 L383.4 1323.5 L384.9 1325.4 L386.4 1327.3 L387.9 1329.3 L389.4 1331.2 L390.3 1332.4 L390.9 1333.2 L392.4 1335.2 L393.9 1337.2 L395.4 1339.3 L396.9 1341.4 L398.4 1343.6 L399.9 1345.7 L401.4 1347.8 L402.9 1350.0 L404.4 1352.1 L405.9 1354.2 L407.4 1356.2 L408.9 1358.3 L410.4 1360.3 L411.9 1362.2 L412.4 1362.8 L413.4 1364.0 L414.9 1365.9 L416.4 1367.8 L417.9 1369.6 L419.4 1371.4 L420.9 1373.2 L422.4 1375.0 L423.9 1376.7 L425.4 1378.4 L426.9 1380.1 L428.4 1381.6 L429.9 1383.2 L431.4 1384.6 L431.8 1385.0 L432.9 1386.0 L434.4 1387.5 L435.9 1388.9 L437.4 1390.3 L438.9 1391.7 L440.4 1393.0 L441.9 1394.3 L443.4 1395.5 L444.9 1396.7 L446.4 1397.7 L447.9 1398.6 L449.4 1399.5 L450.9 1400.1 L451.1 1400.2 L452.4 1400.7 L453.9 1401.3 L455.4 1401.8 L456.9 1402.3 L458.4 1402.9 L459.9 1403.3 L461.4 1403.8 L462.9 1404.2 L464.4 1404.6 L465.9 1404.9 L467.4 1405.2 L468.9 1405.4 L470.4 1405.6 L471.9 1405.7 L473.2 1405.7 L473.4 1405.7 L474.9 1405.7 L476.4 1405.5 L477.9 1405.3 L479.4 1405.1 L480.9 1404.8 L482.4 1404.4 L483.9 1404.0 L485.4 1403.6 L486.9 1403.1 L488.4 1402.6 L489.9 1402.1 L491.4 1401.6 L492.9 1401.1 L494.4 1400.6 L495.4 1400.2 L495.9 1400.0 L497.4 1399.4 L498.9 1398.8 L500.4 1398.0 L501.9 1397.2 L503.4 1396.4 L504.9 1395.5 L506.4 1394.5 L507.9 1393.6 L509.4 1392.6 L510.9 1391.6 L512.4 1390.6 L513.9 1389.6 L514.7 1389.1 L515.4 1388.6 L516.9 1387.6 L518.4 1386.6 L519.9 1385.4 L521.4 1384.3 L522.9 1383.1 L524.4 1381.9 L525.9 1380.7 L527.4 1379.5 L528.9 1378.3 L530.4 1377.1 L531.9 1375.9 L533.4 1374.7 L534.9 1373.6 L536.4 1372.5 L537.9 1371.4 L539.4 1370.3 L540.9 1369.3 L542.4 1368.4 L543.9 1367.5 L545.4 1366.7 L546.9 1365.9 L548.4 1365.1 L549.9 1364.3 L551.4 1363.6 L552.9 1362.8 L554.4 1362.1 L555.9 1361.4 L557.4 1360.7 L558.9 1360.0 L560.4 1359.3 L561.9 1358.6 L563.4 1357.9 L564.9 1357.1 L566.4 1356.4 L567.9 1355.6 L569.4 1354.8 L570.0 1354.5 L570.9 1354.0 L572.4 1353.2 L573.9 1352.4 L575.4 1351.6 L576.9 1350.8 L578.4 1349.9 L579.9 1349.1 L581.4 1348.3 L582.9 1347.4 L584.4 1346.6 L585.9 1345.7 L587.4 1344.8 L588.9 1343.9 L590.4 1342.9 L591.9 1342.0 L593.4 1341.0 L594.9 1339.9 L596.4 1338.9 L597.7 1337.9 L597.9 1337.7 L599.4 1336.6 L600.9 1335.3 L602.4 1334.0 L603.9 1332.7 L605.4 1331.3 L606.9 1329.8 L608.4 1328.3 L609.9 1326.8 L611.4 1325.2 L612.9 1323.6 L614.4 1322.0 L615.9 1320.4 L617.4 1318.8 L618.9 1317.2 L620.4 1315.5 L621.9 1313.9 L623.4 1312.3 L624.9 1310.7 L625.3 1310.3 L626.4 1309.1 L627.9 1307.5 L629.4 1305.9 L630.9 1304.3 L632.4 1302.7 L633.9 1301.0 L635.4 1299.3 L636.9 1297.7 L638.4 1296.0 L639.9 1294.3 L641.4 1292.6 L642.9 1291.0 L644.4 1289.3 L645.9 1287.6 L647.4 1286.0 L648.9 1284.3 L650.4 1282.7 L651.9 1281.1 L653.0 1279.9 L653.4 1279.5 L654.9 1277.9 L656.4 1276.3 L657.9 1274.8 L659.4 1273.2 L660.9 1271.7 L662.4 1270.2 L663.9 1268.6 L665.4 1267.1 L666.9 1265.6 L668.4 1264.1 L669.9 1262.6 L671.4 1261.0 L672.9 1259.5 L674.4 1258.0 L675.9 1256.4 L677.4 1254.9 L678.9 1253.3 L680.4 1251.7 L680.6 1251.5 L681.9 1250.1 L683.4 1248.5 L684.9 1246.9 L686.4 1245.3 L687.9 1243.6 L689.4 1242.0 L690.9 1240.3 L692.4 1238.7 L693.9 1237.0 L695.4 1235.4 L696.9 1233.7 L698.4 1232.1 L699.9 1230.4 L701.4 1228.8 L702.9 1227.1 L704.4 1225.5 L705.9 1223.8 L707.4 1222.2 L707.6 1222.0 L708.9 1220.6 L710.4 1218.9 L711.9 1217.3 L713.4 1215.6 L714.9 1214.0 L716.4 1212.3 L717.9 1210.6 L719.4 1208.9 L720.9 1207.3 L722.4 1205.6 L723.9 1204.0 L725.4 1202.4 L726.9 1200.8 L728.4 1199.2 L729.9 1197.7 L731.4 1196.2 L732.9 1194.7 L734.4 1193.3 L735.3 1192.5 L735.9 1192.0 L737.4 1190.6 L738.9 1189.2 L740.4 1187.8 L741.9 1186.5 L743.4 1185.3 L744.9 1184.1 L746.4 1182.9 L747.9 1181.9 L749.1 1181.2 L749.4 1181.0 L750.9 1180.2 L752.4 1179.5 L753.9 1178.8 L755.4 1178.2 L756.9 1177.6 L758.4 1177.0 L759.9 1176.5 L761.4 1175.9 L762.9 1175.3 L764.4 1174.7 L765.9 1174.1 L767.4 1173.4 L768.5 1172.8 L768.9 1172.6 L770.4 1171.8 L771.9 1170.9 L773.4 1170.0 L774.9 1169.0 L776.4 1168.0 L777.9 1167.0 L779.4 1165.9 L780.9 1164.8 L782.4 1163.6 L783.9 1162.5 L785.1 1161.5 L785.4 1161.3 L786.9 1160.0 L788.4 1158.6 L789.9 1157.1 L791.4 1155.5 L792.9 1154.0 L794.4 1152.3 L795.9 1150.7 L797.4 1149.1 L798.9 1147.5 L800.4 1145.9 L801.9 1144.4 L803.4 1142.9 L804.4 1142.0 L804.9 1141.6 L806.4 1140.3 L807.9 1139.0 L809.4 1137.9 L810.9 1136.7 L812.4 1135.6 L813.9 1134.5 L815.4 1133.4 L816.9 1132.2 L818.4 1131.1 L819.9 1129.9 L821.4 1128.6 L822.9 1127.3 L823.8 1126.5 L824.4 1125.9 L825.9 1124.4 L827.4 1122.8 L828.9 1121.1 L830.4 1119.3 L831.9 1117.5 L833.4 1115.8 L834.9 1114.0 L836.4 1112.4 L837.9 1110.8 L839.4 1109.4 L840.4 1108.5 L840.9 1108.1 L842.4 1106.9 L843.9 1105.7 L845.4 1104.6 L846.9 1103.5 L848.4 1102.4 L849.9 1101.4 L851.4 1100.5 L852.9 1099.5 L854.4 1098.7 L855.9 1097.9 L856.9 1097.4 L857.4 1097.2 L858.9 1096.5 L860.4 1095.8 L861.9 1095.2 L863.4 1094.6 L864.9 1094.1 L866.4 1093.5 L867.9 1093.0 L869.4 1092.5 L870.9 1092.0 L872.4 1091.5 L873.9 1091.0 L875.4 1090.5 L876.9 1089.9 L878.4 1089.4 L879.1 1089.1 L879.9 1088.8 L881.4 1088.2 L882.9 1087.6 L884.4 1087.0 L885.9 1086.3 L887.4 1085.7 L888.9 1085.1 L890.4 1084.4 L891.9 1083.8 L893.4 1083.2 L894.9 1082.6 L896.4 1081.9 L897.9 1081.3 L899.4 1080.7 L900.9 1080.2 L902.4 1079.6 L903.9 1079.1 L905.4 1078.5 L906.7 1078.1 L906.9 1078.0 L908.4 1077.6 L909.9 1077.1 L911.4 1076.6 L912.9 1076.1 L914.4 1075.7 L915.9 1075.2 L917.4 1074.8 L918.9 1074.3 L920.4 1073.9 L921.9 1073.5 L923.4 1073.1 L924.9 1072.7 L926.4 1072.3 L927.9 1071.9 L929.4 1071.5 L930.9 1071.1 L932.4 1070.7 L933.9 1070.4 L935.4 1070.0 L936.9 1069.7 L938.4 1069.3 L939.9 1069.0 L941.4 1068.7 L942.7 1068.4 L942.9 1068.4 L944.4 1068.1 L945.9 1067.7 L947.4 1067.4 L948.9 1067.2 L950.4 1066.9 L951.9 1066.6 L953.4 1066.3 L954.9 1066.0 L956.4 1065.7 L957.9 1065.5 L959.4 1065.2 L960.9 1065.0 L962.4 1064.7 L963.9 1064.4 L965.4 1064.2 L966.9 1064.0 L968.4 1063.7 L969.9 1063.5 L971.4 1063.3 L972.9 1063.0 L974.4 1062.8 L975.9 1062.6 L977.4 1062.4 L978.9 1062.2 L980.4 1062.0 L981.9 1061.8 L983.4 1061.6 L984.1 1061.5 L984.9 1061.4 L986.4 1061.2 L987.9 1061.0 L989.4 1060.8 L990.9 1060.6 L992.4 1060.4 L993.9 1060.2 L995.4 1060.0 L996.9 1059.8 L998.4 1059.6 L999.9 1059.5 L1001.4 1059.3 L1002.9 1059.1 L1004.4 1058.9 L1005.9 1058.7 L1007.4 1058.6 L1008.9 1058.4 L1010.4 1058.3 L1011.9 1058.1 L1013.4 1058.0 L1014.9 1057.9 L1016.4 1057.7 L1017.9 1057.6 L1019.4 1057.6 L1020.9 1057.5 L1022.4 1057.4 L1023.9 1057.3 L1025.4 1057.3 L1025.6 1057.3 L1026.9 1057.3 L1028.4 1057.2 L1029.9 1057.2 L1031.4 1057.2 L1032.9 1057.2 L1034.4 1057.1 L1035.9 1057.1 L1037.4 1057.1 L1038.9 1057.0 L1040.4 1057.0 L1041.9 1057.0 L1043.4 1057.0 L1044.9 1057.0 L1046.4 1056.9 L1047.9 1056.9 L1049.4 1056.9 L1050.9 1056.9 L1052.4 1056.9 L1053.9 1056.9 L1055.4 1056.8 L1056.9 1056.8 L1058.4 1056.8 L1059.9 1056.8 L1061.4 1056.8 L1062.9 1056.8 L1064.4 1056.8 L1065.9 1056.8 L1067.1 1056.8 L1067.4 1056.8 L1068.9 1056.8 L1070.4 1056.8 L1071.9 1056.8 L1073.4 1056.8 L1074.9 1056.8 L1076.4 1056.9 L1077.9 1056.9 L1079.4 1056.9 L1080.9 1056.9 L1082.4 1057.0 L1083.9 1057.0 L1085.4 1057.0 L1086.9 1057.1 L1088.4 1057.1 L1089.9 1057.2 L1091.4 1057.2 L1092.9 1057.3 L1094.4 1057.3 L1095.9 1057.4 L1097.4 1057.4 L1098.9 1057.5 L1100.4 1057.5 L1101.9 1057.6 L1103.4 1057.7 L1104.9 1057.7 L1106.4 1057.8 L1107.9 1057.9 L1108.6 1057.9 L1109.4 1057.9 L1110.9 1058.1 L1112.4 1058.2 L1113.9 1058.4 L1115.4 1058.7 L1116.9 1058.9 L1118.4 1059.2 L1119.9 1059.5 L1121.4 1059.8 L1122.9 1060.1 L1124.4 1060.4 L1125.9 1060.7 L1127.4 1060.9 L1128.9 1061.2 L1130.4 1061.4 L1131.9 1061.6 L1133.4 1061.8 L1134.9 1061.9 L1136.2 1062.0 L1136.4 1062.0 L1137.9 1062.1 L1139.4 1062.1 L1140.9 1062.2 L1142.4 1062.2 L1143.9 1062.3 L1145.4 1062.3 L1146.9 1062.4 L1148.4 1062.4 L1149.9 1062.5 L1151.4 1062.5 L1152.9 1062.6 L1154.4 1062.6 L1155.9 1062.6 L1157.4 1062.7 L1158.9 1062.7 L1160.4 1062.7 L1161.9 1062.8 L1163.4 1062.8 L1164.9 1062.8 L1166.4 1062.8 L1167.9 1062.8 L1169.4 1062.9 L1170.9 1062.9 L1172.4 1062.9 L1173.9 1062.9 L1175.4 1062.9 L1176.9 1062.9 L1177.7 1062.9 L1178.4 1062.9 L1179.9 1062.9 L1181.4 1062.9 L1182.9 1062.9 L1184.4 1062.9 L1185.9 1062.9 L1187.4 1062.9 L1188.9 1062.9 L1190.4 1062.9 L1191.9 1062.9 L1193.4 1062.9 L1194.9 1062.9 L1196.4 1062.9 L1197.9 1062.9 L1199.4 1062.9 L1200.9 1062.9 L1202.4 1062.9 L1203.9 1062.9 L1205.4 1062.9 L1206.9 1062.9 L1208.4 1062.9 L1209.9 1062.9 L1211.4 1062.9 L1212.9 1062.9 L1214.4 1062.9 L1215.9 1062.9 L1217.4 1062.9 L1218.9 1062.9 L1220.4 1062.9 L1221.9 1062.9 L1223.4 1062.9 L1224.9 1062.9 L1226.4 1062.9 L1227.9 1062.9 L1229.4 1062.9 L1230.9 1062.9 L1232.4 1062.9 L1233.9 1062.9 L1235.4 1062.9 L1236.9 1062.9 L1238.4 1062.9 L1239.9 1062.9 L1241.4 1062.9 L1242.9 1062.9 L1244.4 1062.9 L1245.9 1062.9 L1247.4 1062.9 L1248.9 1062.9 L1249.5 1062.9 L1250.4 1062.9 L1251.9 1063.0 L1253.4 1063.3 L1254.9 1063.6 L1256.1 1064.0 L1256.4 1064.2 L1257.9 1067.4 L1259.2 1069.3 L1259.4 1069.2 L1260.9 1066.3 L1262.3 1064.0 L1262.4 1064.0 L1263.9 1064.0 L1265.4 1064.0 L1266.9 1064.0 L1268.4 1064.0 L1269.9 1064.0 L1271.4 1064.0 L1272.9 1064.0 L1274.4 1064.0 L1275.9 1064.0 L1277.4 1064.0 L1278.9 1064.0 L1280.4 1064.0 L1281.9 1064.0 L1283.4 1064.0 L1284.9 1064.0 L1286.4 1064.0 L1287.9 1064.0 L1289.4 1064.1 L1290.9 1064.1 L1292.4 1064.2 L1293.9 1064.2 L1295.4 1064.3 L1296.9 1064.4 L1298.4 1064.5 L1299.9 1064.6 L1301.4 1064.7 L1302.9 1064.9 L1304.4 1065.0 L1305.9 1065.1 L1307.4 1065.3 L1308.9 1065.4 L1309.8 1065.5 L1310.4 1065.6 L1311.9 1065.8 L1313.4 1066.1 L1314.9 1066.4 L1316.4 1066.8 L1317.9 1067.3 L1319.4 1067.8 L1320.9 1068.3 L1322.4 1068.9 L1323.9 1069.4 L1325.4 1070.0 L1326.9 1070.6 L1328.4 1071.2 L1329.9 1071.8 L1331.4 1072.3 L1332.9 1072.9 L1334.4 1073.4 L1334.7 1073.5 L1335.9 1073.9 L1337.4 1074.5 L1338.9 1075.1 L1340.4 1075.7 L1341.9 1076.4 L1343.4 1077.0 L1344.9 1077.7 L1346.4 1078.3 L1347.9 1078.9 L1349.4 1079.5 L1350.9 1080.1 L1352.4 1080.5 L1353.9 1081.0 L1355.4 1081.3 L1356.9 1081.5 L1358.4 1081.7 L1359.5 1081.7 L1359.9 1081.7 L1361.4 1081.7 L1362.9 1081.7 L1364.4 1081.6 L1365.9 1081.6 L1367.4 1081.6 L1368.9 1081.5 L1370.4 1081.4 L1371.9 1081.4 L1373.4 1081.3 L1374.9 1081.2 L1376.4 1081.2 L1377.9 1081.1 L1379.4 1081.0 L1380.9 1080.9 L1382.4 1080.8 L1383.9 1080.6 L1385.4 1080.5 L1386.9 1080.3 L1388.4 1080.1 L1389.9 1079.9 L1391.4 1079.7 L1392.9 1079.4 L1394.4 1079.2 L1395.9 1079.1 L1397.4 1078.9 L1398.9 1078.8 L1400.4 1078.6 L1401.9 1078.6 L1403.4 1078.5 L1404.3 1078.5 L1404.9 1078.5 L1406.4 1078.6 L1407.9 1078.9 L1409.4 1079.2 L1410.9 1079.7 L1412.4 1080.2 L1413.9 1080.9 L1415.4 1081.5 L1416.9 1082.2 L1418.4 1083.0 L1419.9 1083.7 L1421.4 1084.5 L1421.8 1084.7 L1422.9 1085.3 L1424.4 1086.5 L1425.9 1087.8 L1427.4 1089.2 L1428.9 1090.6 L1430.4 1092.0 L1431.9 1093.3 L1433.4 1094.3 L1434.2 1094.7 L1434.9 1095.0 L1436.4 1095.7 L1437.9 1096.4 L1439.4 1097.0 L1440.9 1097.4 L1442.4 1097.8 L1443.9 1097.9 L1444.1 1097.9 L1445.4 1097.7 L1446.9 1097.2 L1448.4 1096.3 L1449.9 1095.3 L1451.4 1094.1 L1452.9 1093.0 L1454.1 1092.2 L1454.4 1092.0 L1455.9 1090.9 L1457.4 1089.7 L1458.9 1088.5 L1460.4 1087.2 L1461.9 1085.9 L1463.4 1084.6 L1464.9 1083.5 L1466.4 1082.4 L1467.9 1081.5 L1469.0 1081.0 L1469.4 1080.8 L1470.9 1080.2 L1472.4 1079.6 L1473.9 1079.0 L1475.4 1078.4 L1476.9 1077.9 L1478.4 1077.4 L1479.9 1076.9 L1481.4 1076.6 L1482.9 1076.3 L1484.4 1076.1 L1485.9 1076.0 L1486.5 1076.0 L1487.4 1076.0 L1488.9 1076.0 L1490.4 1076.1 L1491.9 1076.2 L1493.4 1076.3 L1494.9 1076.4 L1496.4 1076.6 L1497.9 1076.8 L1499.4 1077.0 L1500.9 1077.2 L1502.4 1077.4 L1503.9 1077.6 L1505.4 1077.9 L1506.9 1078.2 L1508.4 1078.4 L1508.8 1078.5 L1509.9 1078.7 L1511.4 1079.1 L1512.9 1079.6 L1514.4 1080.2 L1515.9 1080.8 L1517.4 1081.6 L1518.9 1082.3 L1520.4 1083.2 L1521.9 1084.0 L1523.4 1084.9 L1524.9 1085.9 L1526.4 1086.8 L1527.9 1087.8 L1528.8 1088.4 L1529.4 1088.8 L1530.9 1089.8 L1532.4 1090.9 L1533.9 1092.1 L1535.4 1093.3 L1536.9 1094.6 L1538.4 1096.0 L1539.9 1097.5 L1541.4 1099.1 L1542.9 1100.7 L1544.4 1102.4 L1545.9 1104.2 L1546.2 1104.6 L1547.4 1106.2 L1548.9 1108.4 L1550.4 1110.9 L1551.9 1113.6 L1553.4 1116.5 L1554.9 1119.4 L1556.4 1122.5 L1557.9 1125.6 L1558.6 1127.0 L1559.4 1128.7 L1560.9 1131.9 L1562.4 1135.2 L1563.9 1138.6 L1565.4 1142.2 L1566.9 1145.9 L1568.4 1149.7 L1569.9 1153.7 L1571.1 1156.9 L1571.4 1157.7 L1572.9 1162.0 L1574.4 1166.6 L1575.9 1171.3 L1577.4 1176.2 L1578.9 1181.2 L1579.8 1184.2 L1580.4 1186.3 L1581.9 1192.2 L1583.4 1198.3 L1584.9 1203.6 L1586.0 1206.6 L1586.4 1207.5 L1587.9 1210.9 L1589.4 1214.1 L1590.9 1216.8 L1592.4 1218.9 L1593.9 1220.1 L1594.7 1220.3 L1595.4 1220.2 L1596.9 1219.2 L1598.4 1217.3 L1599.9 1214.7 L1601.4 1211.5 L1602.9 1207.9 L1603.4 1206.6 L1604.4 1203.0 L1605.9 1194.9 L1607.4 1185.4 L1608.4 1179.3 L1608.9 1176.3 L1610.4 1166.8 L1611.9 1157.3 L1613.4 1149.4 L1614.9 1143.0 L1616.4 1137.0 L1617.9 1131.8 L1619.4 1127.5 L1620.8 1124.5 L1620.9 1124.3 L1622.4 1121.8 L1623.9 1119.6 L1625.4 1117.8 L1626.9 1116.5 L1628.3 1115.8 L1628.4 1115.8 L1629.9 1115.4 L1631.4 1115.1 L1632.9 1114.9 L1634.4 1114.7 L1635.9 1114.6 L1637.0 1114.6 L1637.4 1114.6 L1638.9 1115.0 L1640.4 1115.9 L1641.9 1117.1 L1643.4 1118.5 L1644.9 1119.9 L1646.4 1121.4 L1647.9 1122.7 L1649.4 1123.8 L1650.7 1124.5 L1650.9 1124.6 L1652.4 1125.1 L1653.9 1125.6 L1655.4 1126.0 L1656.9 1126.4 L1658.4 1126.8 L1659.9 1127.1 L1661.4 1127.4 L1662.9 1127.7 L1664.4 1128.0 L1665.9 1128.3 L1667.4 1128.7 L1668.9 1129.0 L1670.4 1129.4 L1670.6 1129.5 L1671.9 1129.9 L1673.4 1130.3 L1674.9 1130.7 L1676.4 1131.1 L1677.9 1131.5 L1679.4 1132.0 L1680.9 1132.5 L1682.4 1133.1 L1683.9 1133.7 L1685.4 1134.4 L1685.5 1134.5 L1686.9 1135.4 L1688.4 1136.8 L1689.9 1138.4 L1691.4 1140.2 L1692.9 1142.1 L1694.4 1144.1 L1695.9 1145.9 L1697.4 1147.6 L1698.0 1148.2 L1698.9 1149.1 L1700.4 1150.4 L1701.9 1151.7 L1703.4 1153.0 L1704.9 1154.2 L1706.4 1155.4 L1707.9 1156.6 L1709.4 1157.9 L1710.9 1159.1 L1712.4 1160.4 L1713.9 1161.7 L1715.4 1163.1 L1716.9 1164.5 L1718.4 1166.0 L1719.9 1167.4 L1721.4 1168.8 L1722.9 1170.3 L1724.4 1171.9 L1725.9 1173.5 L1727.4 1175.1 L1728.9 1176.8 L1730.4 1178.7 L1731.9 1180.6 L1732.8 1181.8 L1733.4 1182.6 L1734.9 1184.9 L1736.4 1187.4 L1737.9 1190.1 L1739.4 1193.0 L1740.9 1195.9 L1742.4 1198.9 L1743.9 1201.8 L1745.4 1204.8 L1746.9 1207.6 L1747.7 1209.1 L1748.4 1210.4 L1749.9 1213.0 L1751.4 1215.6 L1752.9 1218.1 L1754.4 1220.7 L1755.9 1223.3 L1757.4 1226.0 L1758.9 1228.9 L1760.2 1231.5 L1760.4 1231.9 L1761.9 1235.1 L1763.4 1238.5 L1764.9 1242.0 L1766.4 1245.6 L1767.9 1249.3 L1769.4 1253.1 L1770.9 1257.0 L1772.4 1260.9 L1772.6 1261.4 L1773.9 1264.8 L1775.4 1268.8 L1776.9 1272.9 L1778.4 1277.1 L1779.9 1281.4 L1781.4 1285.9 L1782.9 1290.7 L1783.0 1291.0 L1784.4 1295.8 L1785.9 1301.3 L1787.4 1307.1 L1788.9 1313.0 L1790.4 1318.9 L1791.9 1324.6 L1792.0 1325.0 L1793.4 1330.2 L1794.9 1335.6 L1796.4 1341.0 L1797.9 1346.4 L1799.4 1351.9 L1800.9 1357.6 L1802.4 1363.4 L1802.8 1365.0 L1803.9 1369.4 L1805.4 1375.4 L1806.9 1381.6 L1808.4 1388.0 L1809.9 1394.7 L1811.4 1401.8 L1812.3 1406.4 L1812.9 1409.6 L1814.4 1418.3 L1815.9 1427.8 L1817.4 1437.7 L1818.9 1447.7 L1819.8 1453.6 L1820.4 1457.5 L1821.9 1467.6 L1823.4 1477.9 L1824.9 1488.1 L1826.4 1497.7 L1826.9 1500.7 L1827.9 1506.8 L1829.4 1515.9 L1830.9 1524.6 L1832.4 1532.2 L1833.6 1537.0 L1833.9 1538.0 L1835.4 1543.0 L1836.9 1547.5 L1838.4 1551.5 L1839.9 1554.6 L1841.4 1556.7 L1841.7 1557.0 L1842.9 1558.0 L1844.4 1559.1 L1845.9 1560.1 L1847.4 1561.0 L1848.9 1561.8 L1850.4 1562.4 L1851.9 1563.0 L1853.4 1563.5 L1854.9 1563.9 L1856.2 1564.2 L1856.4 1564.2 L1857.9 1564.6 L1859.4 1564.9 L1860.9 1565.2 L1862.4 1565.5 L1863.9 1565.8 L1865.4 1566.0 L1866.9 1566.3 L1868.4 1566.5 L1869.9 1566.8 L1871.4 1567.0 L1872.9 1567.2 L1874.4 1567.4 L1875.9 1567.5 L1877.4 1567.7 L1878.9 1567.9 L1880.4 1568.0 L1881.9 1568.1 L1883.4 1568.3 L1884.9 1568.4 L1886.4 1568.5 L1887.9 1568.5 L1888.9 1568.6 L1889.4 1568.6 L1890.9 1568.7 L1892.4 1568.8 L1893.9 1568.8 L1895.4 1568.9 L1896.9 1569.0 L1898.4 1569.0 L1899.9 1569.1 L1901.4 1569.2 L1902.9 1569.2 L1904.4 1569.3 L1905.9 1569.3 L1907.4 1569.4 L1908.9 1569.4 L1910.4 1569.5 L1911.9 1569.5 L1913.4 1569.6 L1914.9 1569.6 L1916.4 1569.6 L1917.9 1569.6 L1919.4 1569.7 L1920.9 1569.7 L1922.4 1569.7 L1923.9 1569.7 L1925.1 1569.7 L1925.4 1569.7 L1926.9 1569.7 L1928.4 1569.7 L1929.9 1569.7 L1931.4 1569.7 L1932.9 1569.6 L1934.4 1569.6 L1935.9 1569.6 L1937.4 1569.5 L1938.9 1569.5 L1940.4 1569.4 L1941.9 1569.4 L1943.4 1569.3 L1944.9 1569.2 L1946.4 1569.1 L1947.9 1569.1 L1949.4 1569.0 L1950.5 1568.9 L1950.9 1568.9 L1952.4 1568.6 L1953.9 1568.2 L1955.4 1567.7 L1956.9 1567.0 L1958.4 1566.1 L1959.9 1565.1 L1961.4 1563.9 L1962.9 1562.7 L1963.2 1562.4 L1964.4 1560.9 L1965.9 1558.1 L1967.4 1554.4 L1968.9 1549.8 L1970.4 1544.7 L1970.5 1544.3 L1971.9 1537.8 L1973.4 1528.4 L1974.9 1517.6 L1976.2 1508.0 L1976.4 1506.5 L1977.9 1495.0 L1979.4 1482.5 L1980.9 1469.3 L1982.4 1455.5 L1982.6 1453.6 L1983.9 1441.2 L1985.4 1426.0 L1986.9 1409.7 L1987.8 1399.1 L1988.4 1391.2 L1989.9 1369.0 L1990.9 1355.6 L1991.4 1349.5 L1992.9 1332.9 L1993.4 1330.2 L1994.4 1327.4 L1995.9 1324.3 L1997.4 1322.9 L1997.7 1322.9 L1998.9 1324.1 L2000.4 1328.0 L2001.9 1333.2 L2003.2 1337.4 L2003.4 1338.0 L2004.9 1343.1 L2006.4 1348.5 L2007.9 1352.7 L2008.6 1353.8 L2009.4 1354.6 L2010.9 1356.0 L2012.4 1357.0 L2013.9 1357.4 L2014.0 1357.4 L2015.4 1356.9 L2016.9 1355.6 L2018.4 1353.5 L2019.9 1350.9 L2021.3 1348.3 L2021.4 1348.1 L2022.9 1344.2 L2024.4 1338.8 L2025.9 1332.2 L2027.4 1324.9 L2028.5 1319.3 L2028.9 1317.2 L2030.4 1308.2 L2031.9 1297.8 L2033.4 1286.7 L2034.9 1275.3 L2035.8 1268.5 L2036.4 1264.0 L2037.9 1252.4 L2039.4 1240.4 L2040.9 1228.2 L2042.4 1216.0 L2043.1 1210.4 L2043.9 1204.0 L2045.4 1191.8 L2046.9 1179.5 L2048.4 1167.4 L2049.9 1155.5 L2050.3 1152.4 L2051.4 1143.9 L2052.9 1132.3 L2054.4 1120.8 L2055.9 1109.8 L2057.4 1099.3 L2057.6 1098.0 L2058.9 1089.2 L2060.4 1079.2 L2061.9 1069.6 L2063.4 1061.1 L2064.8 1054.4 L2064.9 1054.0 L2066.4 1047.7 L2067.9 1041.9 L2069.4 1036.9 L2070.9 1032.9 L2072.1 1030.8 L2072.4 1030.4 L2073.9 1028.5 L2075.4 1027.0 L2076.9 1026.2 L2077.5 1026.1 L2078.4 1026.4 L2079.9 1027.8 L2081.4 1030.3 L2082.9 1033.7 L2083.0 1034.0 L2084.4 1041.5 L2085.9 1056.0 L2087.3 1072.6 L2087.4 1073.9 L2088.9 1099.6 L2090.4 1130.5 L2090.9 1140.0 L2091.9 1158.3 L2093.4 1185.6 L2094.9 1211.2 L2095.8 1225.0 L2096.4 1233.5 L2097.9 1253.6 L2099.4 1272.0 L2100.9 1288.8 L2101.5 1295.0 L2102.4 1304.3 L2103.9 1319.7 L2105.4 1333.3 L2106.9 1343.3 L2107.2 1344.7 L2108.4 1349.7 L2109.9 1355.5 L2111.4 1360.5 L2112.9 1364.1 L2114.4 1366.2 L2115.2 1366.5 L2115.9 1366.3 L2117.4 1364.6 L2118.9 1361.3 L2120.4 1356.8 L2121.9 1351.3 L2123.4 1345.1 L2123.5 1344.7 L2124.9 1335.8 L2126.4 1321.2 L2127.9 1303.7 L2129.0 1290.3 L2129.4 1285.3 L2130.9 1264.5 L2132.4 1240.6 L2133.7 1217.7 L2133.9 1213.8 L2135.4 1179.0 L2136.2 1163.3 L2136.9 1152.5 L2138.4 1132.1 L2139.9 1119.7 L2141.4 1113.8 L2142.9 1109.2 L2144.4 1105.5 L2145.9 1102.5 L2147.4 1099.9 L2148.9 1097.5 L2150.4 1095.0 L2150.8 1094.3 L2151.9 1092.3 L2153.4 1089.5 L2154.9 1086.8 L2156.4 1084.2 L2157.9 1081.7 L2159.4 1079.3 L2160.9 1077.2 L2162.4 1075.3 L2163.9 1073.8 L2165.3 1072.6 L2165.4 1072.5 L2166.9 1071.5 L2168.4 1070.4 L2169.9 1069.4 L2171.4 1068.4 L2172.9 1067.5 L2174.4 1066.7 L2175.9 1065.9 L2177.4 1065.3 L2178.9 1064.7 L2180.4 1064.2 L2181.9 1063.8 L2183.4 1063.6 L2184.9 1063.5 L2185.2 1063.5 L2186.4 1063.6 L2187.9 1063.8 L2189.4 1064.1 L2190.9 1064.6 L2192.4 1065.3 L2193.9 1066.0 L2195.4 1066.9 L2196.9 1067.8 L2198.4 1068.8 L2199.9 1069.9 L2201.4 1071.0 L2202.9 1072.2 L2203.4 1072.6 L2204.4 1073.5 L2205.9 1075.2 L2207.4 1077.2 L2208.9 1079.5 L2210.4 1082.2 L2211.9 1085.0 L2213.4 1088.1 L2214.9 1091.3 L2216.4 1094.6 L2217.9 1098.0 L2219.4 1101.6 L2220.9 1105.5 L2222.4 1109.8 L2223.9 1114.4 L2225.4 1119.3 L2226.9 1124.4 L2228.4 1129.8 L2229.9 1135.3 L2230.6 1137.9 L2231.4 1141.0 L2232.9 1147.2 L2234.4 1153.9 L2235.9 1160.9 L2237.4 1168.2 L2238.9 1175.7 L2240.4 1183.2 L2241.5 1188.7 L2241.9 1190.7 L2243.4 1198.6 L2244.9 1206.8 L2246.4 1215.1 L2247.9 1223.5 L2249.4 1231.7 L2250.9 1239.5 L2252.4 1246.7 L2253.9 1253.6 L2255.4 1260.5 L2256.9 1267.2 L2258.4 1273.6 L2259.9 1279.5 L2261.4 1284.8 L2262.9 1289.5 L2263.2 1290.3 L2264.4 1293.4 L2265.9 1296.9 L2267.4 1300.0 L2268.9 1302.9 L2270.4 1305.7 L2271.9 1308.3 L2273.4 1311.0 L2274.9 1313.8 L2275.9 1315.7 L2276.4 1316.7 L2277.9 1319.4 L2279.4 1321.8 L2280.9 1324.3 L2282.4 1326.9 L2283.9 1329.9 L2285.4 1333.4 L2286.8 1337.4 L2286.9 1337.7 L2288.4 1343.7 L2289.9 1351.7 L2291.4 1361.3 L2292.9 1372.0 L2294.1 1381.0 L2294.4 1383.4 L2295.9 1397.2 L2297.4 1413.1 L2298.9 1429.3 L2299.5 1435.4 L2300.4 1444.6 L2301.9 1460.1 L2303.4 1475.3 L2304.9 1489.0 L2305.0 1489.8 L2306.4 1501.5 L2307.9 1513.8 L2309.4 1525.0 L2310.9 1534.5 L2312.2 1540.6 L2312.4 1541.4 L2313.9 1547.1 L2315.4 1552.5 L2316.9 1557.2 L2318.4 1561.0 L2319.9 1563.4 L2321.3 1564.2 L2321.4 1564.2 L2322.9 1563.7 L2324.4 1562.3 L2325.9 1560.3 L2327.4 1557.8 L2328.9 1554.9 L2330.4 1551.8 L2331.9 1548.5 L2332.2 1547.9 L2333.4 1545.1 L2334.9 1541.1 L2336.4 1536.4 L2337.9 1531.1 L2339.4 1525.1 L2340.9 1518.6 L2342.4 1511.5 L2343.1 1508.0 L2343.9 1503.6 L2345.4 1493.6 L2346.9 1481.9 L2348.4 1469.0 L2349.9 1455.5 L2351.4 1441.7 L2352.1 1435.4 L2352.9 1428.1 L2354.4 1413.6 L2355.9 1398.4 L2357.4 1383.0 L2358.9 1367.8 L2359.4 1362.8 L2360.4 1352.8 L2361.9 1337.7 L2363.4 1323.3 L2364.0 1318.0 L2364.9 1310.5 L2366.4 1299.0 L2366.6 1297.5" stroke="#00f"/>
</g>
<line x1="114.9" y1="118.0" x2="253.3" y2="118.0" stroke="#000" stroke-width="12" stroke-linecap="round"/>
<line x1="114.9" y1="240.0" x2="253.3" y2="240.0" stroke="#f00" stroke-width="12" stroke-linecap="round"/>
<line x1="114.9" y1="389.7" x2="253.3" y2="389.7" stroke="#00f" stroke-width="12" stroke-linecap="round"/>
<text transform="translate(280.0,140.1) scale(1,1.06)" font-size="96.1" fill="#000" text-anchor="start">MPS</text>
<text transform="translate(280.0,261.0) scale(1,1.06)" font-size="96.1" fill="#f00" text-anchor="start">MPS-SiO<tspan font-size="56" dy="32">2</tspan><tspan dy="-32">-NPs</tspan></text>
<text transform="translate(281.0,411.0) scale(1,1.06)" font-size="96.1" fill="#00f" text-anchor="start">SiO<tspan font-size="56" dy="32">2</tspan><tspan dy="-32">-NPs</tspan></text>
<text transform="translate(563.4,1053.3) scale(1,1.045)" font-size="69.3" fill="#f00" text-anchor="start">2945</text><text x="717.6" y="1053.3" font-size="69.3" fill="#f00" xml:space="preserve"> cm<tspan font-size="42.3" dy="-34.0">–1</tspan></text>
<text transform="translate(898.5,990.1) scale(1,1.045)" font-size="67.8" fill="#f00" text-anchor="start">2842</text><text x="1049.3" y="990.1" font-size="67.8" fill="#f00" xml:space="preserve"> cm<tspan font-size="41.4" dy="-33.5">–1</tspan></text>
<text transform="translate(1262.4,976.1) scale(1,1.045)" font-size="68.2" fill="#f00" text-anchor="start">1719</text><text x="1414.1" y="976.1" font-size="68.2" fill="#f00" xml:space="preserve"> cm<tspan font-size="41.6" dy="-34.0">–1</tspan></text>
<text transform="translate(1491.6,1052.3) scale(1,1.045)" font-size="68.2" fill="#f00" text-anchor="start">1456</text><text x="1643.3" y="1052.3" font-size="68.2" fill="#f00" xml:space="preserve"> cm<tspan font-size="41.6" dy="-34.0">–1</tspan></text>
<line x1="709.9" y1="982.7" x2="757.4" y2="907.7" stroke="#f00" stroke-width="9.0" stroke-linecap="round"/><polygon points="775.3,879.4 764.7,912.4 750.0,903.0" fill="#f00" stroke="#f00" stroke-width="8.0" stroke-linejoin="round"/>
<line x1="900.7" y1="916.4" x2="866.9" y2="881.0" stroke="#f00" stroke-width="9.0" stroke-linecap="round"/><polygon points="843.8,856.8 873.2,875.0 860.6,887.1" fill="#f00" stroke="#f00" stroke-width="8.0" stroke-linejoin="round"/>
<line x1="1462.8" y1="926.0" x2="1510.1" y2="897.6" stroke="#f00" stroke-width="9.0" stroke-linecap="round"/><polygon points="1538.9,880.4 1514.6,905.1 1505.6,890.1" fill="#f00" stroke="#f00" stroke-width="8.0" stroke-linejoin="round"/>
<line x1="1674.6" y1="974.4" x2="1691.6" y2="915.0" stroke="#f00" stroke-width="9.0" stroke-linecap="round"/><polygon points="1700.9,882.8 1700.1,917.5 1683.2,912.6" fill="#f00" stroke="#f00" stroke-width="8.0" stroke-linejoin="round"/>
</svg></body></html>
